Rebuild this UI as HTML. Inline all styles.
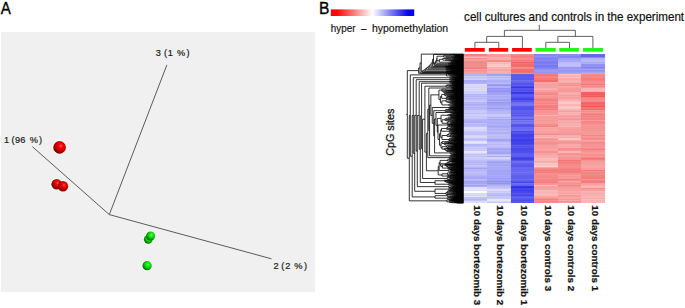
<!DOCTYPE html>
<html><head><meta charset="utf-8">
<style>
html,body{margin:0;padding:0;background:#fff;}
svg{display:block;font-family:"Liberation Sans",sans-serif;}
</style></head>
<body>
<svg width="685" height="308" viewBox="0 0 685 308">
<defs>
<radialGradient id="rs" cx="0.6" cy="0.4" r="0.72" fx="0.6" fy="0.38">
<stop offset="0" stop-color="#ff8c8c"/>
<stop offset="0.12" stop-color="#fa1c1c"/>
<stop offset="0.36" stop-color="#e60000"/>
<stop offset="0.56" stop-color="#c40000"/>
<stop offset="0.76" stop-color="#860000"/>
<stop offset="1" stop-color="#400000"/>
</radialGradient>
<radialGradient id="gs" cx="0.6" cy="0.4" r="0.72" fx="0.6" fy="0.38">
<stop offset="0" stop-color="#a0ffa0"/>
<stop offset="0.12" stop-color="#30f430"/>
<stop offset="0.36" stop-color="#10e010"/>
<stop offset="0.56" stop-color="#00bc00"/>
<stop offset="0.76" stop-color="#007c00"/>
<stop offset="1" stop-color="#003c00"/>
</radialGradient>
<linearGradient id="cb" x1="0" x2="1" y1="0" y2="0">
<stop offset="0" stop-color="#ff0000"/>
<stop offset="0.08" stop-color="#ff0808"/>
<stop offset="0.5" stop-color="#ffffff"/>
<stop offset="0.92" stop-color="#0808f0"/>
<stop offset="1" stop-color="#0000ee"/>
</linearGradient>
</defs>
<!-- Panel A -->
<text x="0.8" y="13.6" font-size="16.5" stroke="#000" stroke-width="0.35" textLength="10.1" lengthAdjust="spacingAndGlyphs">A</text>
<rect x="1" y="32" width="314" height="260" fill="#f0f0f0"/>
<g stroke="#404040" stroke-width="0.85" fill="none">
<line x1="32.4" y1="146.7" x2="109.3" y2="214.6"/>
<line x1="109.3" y1="214.6" x2="166.9" y2="64.9"/>
<line x1="109.3" y1="214.6" x2="271.4" y2="258.8"/>
</g>
<g font-size="9.2" fill="#1a1a1a" stroke="#1a1a1a" stroke-width="0.2">
<text x="155.8 164.0 167.8 176.9 186.4" y="56">3(1%)</text>
<text x="4.1 11.6 15.0 20.3 29.8 39.0" y="143.3">1(96%)</text>
<text x="273.5 281.2 285.3 294.2 304.0" y="269">2(2%)</text>
</g>
<g fill="#fff" opacity="0.55">
<circle cx="59.6" cy="147.4" r="7.3"/>
<circle cx="56.7" cy="184.3" r="6.3"/>
<circle cx="63" cy="186.2" r="6.2"/>
<circle cx="148.3" cy="239.3" r="5.4"/>
<circle cx="150.6" cy="236" r="5.5"/>
<circle cx="147.1" cy="265.7" r="5.6"/>
</g>
<circle cx="59.6" cy="147.4" r="6.3" fill="url(#rs)"/>
<circle cx="56.7" cy="184.3" r="5.3" fill="url(#rs)"/>
<circle cx="63" cy="186.2" r="5.2" fill="url(#rs)"/>
<circle cx="148.3" cy="239.3" r="4.4" fill="url(#gs)"/>
<circle cx="150.6" cy="236" r="4.5" fill="url(#gs)"/>
<circle cx="147.1" cy="265.7" r="4.65" fill="url(#gs)"/>
<!-- Panel B -->
<text x="319.0" y="14.1" font-size="16.5" stroke="#000" stroke-width="0.35" textLength="10.4" lengthAdjust="spacingAndGlyphs">B</text>
<rect x="330.8" y="9.4" width="83.4" height="6.6" fill="url(#cb)"/>
<g font-size="10" fill="#111" stroke="#111" stroke-width="0.15">
<text x="330.8" y="31.7" textLength="24.7" lengthAdjust="spacingAndGlyphs">hyper</text>
<text x="361" y="31.7" textLength="5.5" lengthAdjust="spacingAndGlyphs">&#8211;</text>
<text x="372" y="31.7" textLength="76.2" lengthAdjust="spacingAndGlyphs">hypomethylation</text>
</g>
<text x="464.1" y="20.5" font-size="11.9" fill="#111" stroke="#111" stroke-width="0.2" textLength="220" lengthAdjust="spacingAndGlyphs">cell cultures and controls in the experiment</text>
<g stroke="#505050" stroke-width="0.9" fill="none">
<path d="M539.3,24.8V30.3M504.4,30.3H575.4M504.4,30.3V36.4M486.7,36.4H522.4M486.7,36.4V42.3M474.9,42.3H498.8M474.9,42.3V48.5M498.8,42.3V48.5M522.4,36.4V48.5M575.4,30.3V36.4M557.9,36.4H592.9M557.9,36.4V42.3M545.8,42.3H569.5M545.8,42.3V48.5M569.5,42.3V48.5M592.9,36.4V48.5"/>
</g>
<g fill="#ff0000">
<rect x="464.8" y="48" width="19.9" height="3.7"/>
<rect x="488.9" y="48" width="19.3" height="3.7"/>
<rect x="512.1" y="48" width="19.7" height="3.7"/>
</g>
<g fill="#1ef812">
<rect x="535.5" y="48" width="20.2" height="3.7"/>
<rect x="559.2" y="48" width="19.7" height="3.7"/>
<rect x="583" y="48" width="20" height="3.7"/>
</g>
<g shape-rendering="crispEdges">
<rect x="463.40" y="54.000" width="23.90" height="0.551" fill="#f47e7e"/>
<rect x="463.40" y="54.501" width="23.90" height="0.551" fill="#f58a8a"/>
<rect x="463.40" y="55.001" width="23.90" height="0.551" fill="#f58181"/>
<rect x="463.40" y="55.502" width="23.90" height="0.551" fill="#f58888"/>
<rect x="463.40" y="56.003" width="23.90" height="0.551" fill="#f79e9e"/>
<rect x="463.40" y="56.503" width="23.90" height="0.551" fill="#f8a9a9"/>
<rect x="463.40" y="57.004" width="23.90" height="0.551" fill="#f8b2b2"/>
<rect x="463.40" y="57.505" width="23.90" height="0.551" fill="#f8a6a6"/>
<rect x="463.40" y="58.005" width="23.90" height="1.051" fill="#f68d8d"/>
<rect x="463.40" y="59.007" width="23.90" height="0.551" fill="#f7a2a2"/>
<rect x="463.40" y="59.507" width="23.90" height="0.551" fill="#f69292"/>
<rect x="463.40" y="60.008" width="23.90" height="1.051" fill="#f79a9a"/>
<rect x="463.40" y="61.009" width="23.90" height="0.551" fill="#f68e8e"/>
<rect x="463.40" y="61.510" width="23.90" height="0.551" fill="#f7a0a0"/>
<rect x="463.40" y="62.011" width="23.90" height="0.551" fill="#f58686"/>
<rect x="463.40" y="62.511" width="23.90" height="1.552" fill="#f58b8b"/>
<rect x="463.40" y="64.013" width="23.90" height="0.551" fill="#f58c8c"/>
<rect x="463.40" y="64.514" width="23.90" height="0.551" fill="#f68d8d"/>
<rect x="463.40" y="65.015" width="23.90" height="1.051" fill="#f58888"/>
<rect x="463.40" y="66.016" width="23.90" height="1.051" fill="#f69090"/>
<rect x="463.40" y="67.017" width="23.90" height="0.551" fill="#f58282"/>
<rect x="463.40" y="67.518" width="23.90" height="1.051" fill="#f58080"/>
<rect x="463.40" y="68.519" width="23.90" height="0.551" fill="#f79c9c"/>
<rect x="463.40" y="69.020" width="23.90" height="0.551" fill="#f7a5a5"/>
<rect x="463.40" y="69.521" width="23.90" height="1.051" fill="#f69292"/>
<rect x="463.40" y="70.522" width="23.90" height="1.051" fill="#f79c9c"/>
<rect x="463.40" y="71.523" width="23.90" height="0.551" fill="#f69898"/>
<rect x="463.40" y="72.024" width="23.90" height="0.551" fill="#f79f9f"/>
<rect x="463.40" y="72.525" width="23.90" height="0.551" fill="#f7a0a0"/>
<rect x="463.40" y="73.026" width="23.90" height="0.551" fill="#f79d9d"/>
<rect x="463.40" y="73.526" width="23.90" height="0.551" fill="#b2b2f7"/>
<rect x="463.40" y="74.027" width="23.90" height="1.552" fill="#b4b4f7"/>
<rect x="463.40" y="75.529" width="23.90" height="0.551" fill="#c7c7f9"/>
<rect x="463.40" y="76.030" width="23.90" height="1.051" fill="#cbcbf9"/>
<rect x="463.40" y="77.031" width="23.90" height="1.051" fill="#c2c2f9"/>
<rect x="463.40" y="78.032" width="23.90" height="0.551" fill="#c8c8f9"/>
<rect x="463.40" y="78.533" width="23.90" height="0.551" fill="#d1d1fa"/>
<rect x="463.40" y="79.034" width="23.90" height="0.551" fill="#d0d0fa"/>
<rect x="463.40" y="79.534" width="23.90" height="0.551" fill="#b2b2f7"/>
<rect x="463.40" y="80.035" width="23.90" height="0.551" fill="#aaaaf6"/>
<rect x="463.40" y="80.536" width="23.90" height="0.551" fill="#a8a8f6"/>
<rect x="463.40" y="81.036" width="23.90" height="0.551" fill="#a7a7f6"/>
<rect x="463.40" y="81.537" width="23.90" height="0.551" fill="#acacf6"/>
<rect x="463.40" y="82.038" width="23.90" height="0.551" fill="#b1b1f7"/>
<rect x="463.40" y="82.538" width="23.90" height="0.551" fill="#aaaaf6"/>
<rect x="463.40" y="83.039" width="23.90" height="0.551" fill="#b1b1f7"/>
<rect x="463.40" y="83.540" width="23.90" height="0.551" fill="#b4b4f7"/>
<rect x="463.40" y="84.040" width="23.90" height="0.551" fill="#dcdcfb"/>
<rect x="463.40" y="84.541" width="23.90" height="1.051" fill="#dadafb"/>
<rect x="463.40" y="85.542" width="23.90" height="1.051" fill="#d7d7fb"/>
<rect x="463.40" y="86.544" width="23.90" height="1.051" fill="#d4d4fa"/>
<rect x="463.40" y="87.545" width="23.90" height="0.551" fill="#d1d1fa"/>
<rect x="463.40" y="88.046" width="23.90" height="0.551" fill="#dbdbfb"/>
<rect x="463.40" y="88.546" width="23.90" height="0.551" fill="#d0d0fa"/>
<rect x="463.40" y="89.047" width="23.90" height="0.551" fill="#d6d6fb"/>
<rect x="463.40" y="89.548" width="23.90" height="1.051" fill="#dedefb"/>
<rect x="463.40" y="90.549" width="23.90" height="0.551" fill="#e2e2fc"/>
<rect x="463.40" y="91.050" width="23.90" height="0.551" fill="#cecefa"/>
<rect x="463.40" y="91.550" width="23.90" height="1.051" fill="#cdcdfa"/>
<rect x="463.40" y="92.552" width="23.90" height="0.551" fill="#dadafb"/>
<rect x="463.40" y="93.052" width="23.90" height="0.551" fill="#d5d5fa"/>
<rect x="463.40" y="93.553" width="23.90" height="0.551" fill="#d2d2fa"/>
<rect x="463.40" y="94.054" width="23.90" height="1.051" fill="#b0b0f7"/>
<rect x="463.40" y="95.055" width="23.90" height="0.551" fill="#bfbff8"/>
<rect x="463.40" y="95.556" width="23.90" height="1.051" fill="#b1b1f7"/>
<rect x="463.40" y="96.557" width="23.90" height="1.051" fill="#c3c3f9"/>
<rect x="463.40" y="97.558" width="23.90" height="0.551" fill="#c8c8f9"/>
<rect x="463.40" y="98.059" width="23.90" height="1.051" fill="#b6b6f7"/>
<rect x="463.40" y="99.060" width="23.90" height="0.551" fill="#c1c1f8"/>
<rect x="463.40" y="99.561" width="23.90" height="0.551" fill="#c9c9f9"/>
<rect x="463.40" y="100.062" width="23.90" height="0.551" fill="#c5c5f9"/>
<rect x="463.40" y="100.562" width="23.90" height="1.051" fill="#c9c9f9"/>
<rect x="463.40" y="101.564" width="23.90" height="0.551" fill="#b4b4f7"/>
<rect x="463.40" y="102.064" width="23.90" height="1.051" fill="#b7b7f7"/>
<rect x="463.40" y="103.066" width="23.90" height="1.051" fill="#b6b6f7"/>
<rect x="463.40" y="104.067" width="23.90" height="1.051" fill="#adadf7"/>
<rect x="463.40" y="105.068" width="23.90" height="0.551" fill="#b1b1f7"/>
<rect x="463.40" y="105.569" width="23.90" height="0.551" fill="#bfbff8"/>
<rect x="463.40" y="106.070" width="23.90" height="1.051" fill="#bdbdf8"/>
<rect x="463.40" y="107.071" width="23.90" height="1.051" fill="#b3b3f7"/>
<rect x="463.40" y="108.072" width="23.90" height="1.051" fill="#b7b7f8"/>
<rect x="463.40" y="109.074" width="23.90" height="0.551" fill="#b9b9f8"/>
<rect x="463.40" y="109.574" width="23.90" height="0.551" fill="#c2c2f9"/>
<rect x="463.40" y="110.075" width="23.90" height="0.551" fill="#c6c6f9"/>
<rect x="463.40" y="110.576" width="23.90" height="0.551" fill="#babaf8"/>
<rect x="463.40" y="111.077" width="23.90" height="0.551" fill="#cacaf9"/>
<rect x="463.40" y="111.577" width="23.90" height="1.051" fill="#c8c8f9"/>
<rect x="463.40" y="112.579" width="23.90" height="0.551" fill="#bdbdf8"/>
<rect x="463.40" y="113.079" width="23.90" height="0.551" fill="#bebef8"/>
<rect x="463.40" y="113.580" width="23.90" height="0.551" fill="#bcbcf8"/>
<rect x="463.40" y="114.081" width="23.90" height="1.051" fill="#d0d0fa"/>
<rect x="463.40" y="115.082" width="23.90" height="0.551" fill="#cdcdfa"/>
<rect x="463.40" y="115.583" width="23.90" height="0.551" fill="#e2e2fc"/>
<rect x="463.40" y="116.083" width="23.90" height="0.551" fill="#cacaf9"/>
<rect x="463.40" y="116.584" width="23.90" height="0.551" fill="#d9d9fb"/>
<rect x="463.40" y="117.085" width="23.90" height="0.551" fill="#c9c9f9"/>
<rect x="463.40" y="117.585" width="23.90" height="0.551" fill="#bdbdf8"/>
<rect x="463.40" y="118.086" width="23.90" height="0.551" fill="#c6c6f9"/>
<rect x="463.40" y="118.587" width="23.90" height="1.051" fill="#b5b5f7"/>
<rect x="463.40" y="119.588" width="23.90" height="1.051" fill="#b3b3f7"/>
<rect x="463.40" y="120.589" width="23.90" height="1.051" fill="#adadf7"/>
<rect x="463.40" y="121.591" width="23.90" height="0.551" fill="#b2b2f7"/>
<rect x="463.40" y="122.091" width="23.90" height="1.051" fill="#afaff7"/>
<rect x="463.40" y="123.093" width="23.90" height="0.551" fill="#c0c0f8"/>
<rect x="463.40" y="123.593" width="23.90" height="1.051" fill="#b7b7f7"/>
<rect x="463.40" y="124.595" width="23.90" height="0.551" fill="#bfbff8"/>
<rect x="463.40" y="125.095" width="23.90" height="1.051" fill="#b9b9f8"/>
<rect x="463.40" y="126.097" width="23.90" height="1.051" fill="#bfbff8"/>
<rect x="463.40" y="127.098" width="23.90" height="2.053" fill="#dcdcfb"/>
<rect x="463.40" y="129.101" width="23.90" height="0.551" fill="#d5d5fa"/>
<rect x="463.40" y="129.601" width="23.90" height="1.051" fill="#d9d9fb"/>
<rect x="463.40" y="130.603" width="23.90" height="0.551" fill="#d5d5fa"/>
<rect x="463.40" y="131.103" width="23.90" height="0.551" fill="#c6c6f9"/>
<rect x="463.40" y="131.604" width="23.90" height="1.051" fill="#c2c2f9"/>
<rect x="463.40" y="132.605" width="23.90" height="0.551" fill="#bfbff8"/>
<rect x="463.40" y="133.106" width="23.90" height="0.551" fill="#c2c2f9"/>
<rect x="463.40" y="133.607" width="23.90" height="0.551" fill="#b6b6f7"/>
<rect x="463.40" y="134.107" width="23.90" height="0.551" fill="#c1c1f8"/>
<rect x="463.40" y="134.608" width="23.90" height="0.551" fill="#d4d4fa"/>
<rect x="463.40" y="135.109" width="23.90" height="1.051" fill="#d1d1fa"/>
<rect x="463.40" y="136.110" width="23.90" height="1.051" fill="#d9d9fb"/>
<rect x="463.40" y="137.111" width="23.90" height="0.551" fill="#d8d8fb"/>
<rect x="463.40" y="137.612" width="23.90" height="0.551" fill="#b7b7f8"/>
<rect x="463.40" y="138.113" width="23.90" height="0.551" fill="#c5c5f9"/>
<rect x="463.40" y="138.613" width="23.90" height="1.051" fill="#b9b9f8"/>
<rect x="463.40" y="139.615" width="23.90" height="0.551" fill="#ccccfa"/>
<rect x="463.40" y="140.115" width="23.90" height="1.051" fill="#c7c7f9"/>
<rect x="463.40" y="141.117" width="23.90" height="0.551" fill="#dfdffb"/>
<rect x="463.40" y="141.617" width="23.90" height="1.051" fill="#e8e8fc"/>
<rect x="463.40" y="142.619" width="23.90" height="1.051" fill="#dadafb"/>
<rect x="463.40" y="143.620" width="23.90" height="0.551" fill="#d2d2fa"/>
<rect x="463.40" y="144.121" width="23.90" height="0.551" fill="#b4b4f7"/>
<rect x="463.40" y="144.621" width="23.90" height="1.051" fill="#b7b7f7"/>
<rect x="463.40" y="145.623" width="23.90" height="0.551" fill="#bebef8"/>
<rect x="463.40" y="146.123" width="23.90" height="1.051" fill="#bfbff8"/>
<rect x="463.40" y="147.125" width="23.90" height="0.551" fill="#ccccfa"/>
<rect x="463.40" y="147.626" width="23.90" height="0.551" fill="#dedefb"/>
<rect x="463.40" y="148.126" width="23.90" height="1.051" fill="#c5c5f9"/>
<rect x="463.40" y="149.128" width="23.90" height="0.551" fill="#cbcbf9"/>
<rect x="463.40" y="149.628" width="23.90" height="1.051" fill="#c9c9f9"/>
<rect x="463.40" y="150.630" width="23.90" height="0.551" fill="#c5c5f9"/>
<rect x="463.40" y="151.130" width="23.90" height="0.551" fill="#e6e6fc"/>
<rect x="463.40" y="151.631" width="23.90" height="1.051" fill="#e5e5fc"/>
<rect x="463.40" y="152.632" width="23.90" height="0.551" fill="#e6e6fc"/>
<rect x="463.40" y="153.133" width="23.90" height="0.551" fill="#d1d1fa"/>
<rect x="463.40" y="153.634" width="23.90" height="0.551" fill="#c5c5f9"/>
<rect x="463.40" y="154.134" width="23.90" height="0.551" fill="#c0c0f8"/>
<rect x="463.40" y="154.635" width="23.90" height="0.551" fill="#bfbff8"/>
<rect x="463.40" y="155.136" width="23.90" height="0.551" fill="#cecefa"/>
<rect x="463.40" y="155.636" width="23.90" height="0.551" fill="#cacaf9"/>
<rect x="463.40" y="156.137" width="23.90" height="1.051" fill="#bcbcf8"/>
<rect x="463.40" y="157.138" width="23.90" height="1.051" fill="#d3d3fa"/>
<rect x="463.40" y="158.140" width="23.90" height="1.051" fill="#cbcbf9"/>
<rect x="463.40" y="159.141" width="23.90" height="1.051" fill="#c8c8f9"/>
<rect x="463.40" y="160.142" width="23.90" height="1.051" fill="#bdbdf8"/>
<rect x="463.40" y="161.144" width="23.90" height="1.051" fill="#b7b7f8"/>
<rect x="463.40" y="162.145" width="23.90" height="1.051" fill="#b6b6f7"/>
<rect x="463.40" y="163.146" width="23.90" height="1.051" fill="#bfbff8"/>
<rect x="463.40" y="164.148" width="23.90" height="0.551" fill="#b7b7f8"/>
<rect x="463.40" y="164.648" width="23.90" height="1.051" fill="#c7c7f9"/>
<rect x="463.40" y="165.650" width="23.90" height="0.551" fill="#babaf8"/>
<rect x="463.40" y="166.150" width="23.90" height="0.551" fill="#c2c2f9"/>
<rect x="463.40" y="166.651" width="23.90" height="0.551" fill="#b5b5f7"/>
<rect x="463.40" y="167.152" width="23.90" height="0.551" fill="#b4b4f7"/>
<rect x="463.40" y="167.652" width="23.90" height="1.051" fill="#a1a1f5"/>
<rect x="463.40" y="168.654" width="23.90" height="0.551" fill="#bebef8"/>
<rect x="463.40" y="169.154" width="23.90" height="0.551" fill="#b8b8f8"/>
<rect x="463.40" y="169.655" width="23.90" height="1.051" fill="#b6b6f7"/>
<rect x="463.40" y="170.656" width="23.90" height="0.551" fill="#babaf8"/>
<rect x="463.40" y="171.157" width="23.90" height="1.051" fill="#bcbcf8"/>
<rect x="463.40" y="172.158" width="23.90" height="0.551" fill="#c1c1f8"/>
<rect x="463.40" y="172.659" width="23.90" height="0.551" fill="#b8b8f8"/>
<rect x="463.40" y="173.160" width="23.90" height="0.551" fill="#b9b9f8"/>
<rect x="463.40" y="173.660" width="23.90" height="1.051" fill="#bfbff8"/>
<rect x="463.40" y="174.662" width="23.90" height="1.051" fill="#b2b2f7"/>
<rect x="463.40" y="175.663" width="23.90" height="0.551" fill="#a9a9f6"/>
<rect x="463.40" y="176.164" width="23.90" height="1.051" fill="#ababf6"/>
<rect x="463.40" y="177.165" width="23.90" height="1.051" fill="#a8a8f6"/>
<rect x="463.40" y="178.166" width="23.90" height="0.551" fill="#a6a6f6"/>
<rect x="463.40" y="178.667" width="23.90" height="0.551" fill="#aaaaf6"/>
<rect x="463.40" y="179.168" width="23.90" height="0.551" fill="#bfbff8"/>
<rect x="463.40" y="179.668" width="23.90" height="1.051" fill="#b3b3f7"/>
<rect x="463.40" y="180.670" width="23.90" height="1.051" fill="#a1a1f5"/>
<rect x="463.40" y="181.671" width="23.90" height="1.051" fill="#a7a7f6"/>
<rect x="463.40" y="182.672" width="23.90" height="0.551" fill="#a9a9f6"/>
<rect x="463.40" y="183.173" width="23.90" height="0.551" fill="#a6a6f6"/>
<rect x="463.40" y="183.674" width="23.90" height="0.551" fill="#9c9cf5"/>
<rect x="463.40" y="184.174" width="23.90" height="1.051" fill="#b3b3f7"/>
<rect x="463.40" y="185.176" width="23.90" height="0.551" fill="#a2a2f5"/>
<rect x="463.40" y="185.677" width="23.90" height="0.551" fill="#b4b4f7"/>
<rect x="463.40" y="186.177" width="23.90" height="1.051" fill="#aeaef7"/>
<rect x="463.40" y="187.179" width="23.90" height="0.551" fill="#e0e0fb"/>
<rect x="463.40" y="187.679" width="23.90" height="0.551" fill="#e7e7fc"/>
<rect x="463.40" y="188.180" width="23.90" height="0.551" fill="#e0e0fc"/>
<rect x="463.40" y="188.681" width="23.90" height="1.051" fill="#e8e8fc"/>
<rect x="463.40" y="189.682" width="23.90" height="1.051" fill="#ddddfb"/>
<rect x="463.40" y="190.683" width="23.90" height="0.551" fill="#dcdcfb"/>
<rect x="463.40" y="191.184" width="23.90" height="0.551" fill="#fbfbfe"/>
<rect x="463.40" y="191.685" width="23.90" height="1.051" fill="#fefbfb"/>
<rect x="463.40" y="192.686" width="23.90" height="0.551" fill="#f4f4fd"/>
<rect x="463.40" y="193.187" width="23.90" height="1.051" fill="#dadafb"/>
<rect x="463.40" y="194.188" width="23.90" height="0.551" fill="#dbdbfb"/>
<rect x="463.40" y="194.689" width="23.90" height="1.051" fill="#d4d4fa"/>
<rect x="463.40" y="195.690" width="23.90" height="1.051" fill="#e4e4fc"/>
<rect x="463.40" y="196.691" width="23.90" height="0.551" fill="#e7e7fc"/>
<rect x="463.40" y="197.192" width="23.90" height="0.551" fill="#bebef8"/>
<rect x="463.40" y="197.693" width="23.90" height="0.551" fill="#bdbdf8"/>
<rect x="463.40" y="198.193" width="23.90" height="1.051" fill="#c3c3f9"/>
<rect x="463.40" y="199.195" width="23.90" height="0.551" fill="#b5b5f7"/>
<rect x="463.40" y="199.695" width="23.90" height="0.551" fill="#afaff7"/>
<rect x="463.40" y="200.196" width="23.90" height="0.551" fill="#c4c4f9"/>
<rect x="463.40" y="200.697" width="23.90" height="0.551" fill="#dedefb"/>
<rect x="463.40" y="201.197" width="23.90" height="0.551" fill="#dbdbfb"/>
<rect x="463.40" y="201.698" width="23.90" height="1.051" fill="#dedefb"/>
<rect x="463.40" y="202.699" width="23.90" height="0.551" fill="#d1d1fa"/>
<rect x="487.00" y="54.000" width="23.90" height="0.551" fill="#f79d9d"/>
<rect x="487.00" y="54.501" width="23.90" height="0.551" fill="#f79c9c"/>
<rect x="487.00" y="55.001" width="23.90" height="1.051" fill="#f79d9d"/>
<rect x="487.00" y="56.003" width="23.90" height="0.551" fill="#f79999"/>
<rect x="487.00" y="56.503" width="23.90" height="0.551" fill="#f69797"/>
<rect x="487.00" y="57.004" width="23.90" height="0.551" fill="#f8b0b0"/>
<rect x="487.00" y="57.505" width="23.90" height="0.551" fill="#f9b7b7"/>
<rect x="487.00" y="58.005" width="23.90" height="1.051" fill="#f8a7a7"/>
<rect x="487.00" y="59.007" width="23.90" height="0.551" fill="#f8acac"/>
<rect x="487.00" y="59.507" width="23.90" height="0.551" fill="#f69191"/>
<rect x="487.00" y="60.008" width="23.90" height="1.051" fill="#f68c8c"/>
<rect x="487.00" y="61.009" width="23.90" height="0.551" fill="#f58888"/>
<rect x="487.00" y="61.510" width="23.90" height="0.551" fill="#f79c9c"/>
<rect x="487.00" y="62.011" width="23.90" height="0.551" fill="#fac0c0"/>
<rect x="487.00" y="62.511" width="23.90" height="0.551" fill="#f9bbbb"/>
<rect x="487.00" y="63.012" width="23.90" height="1.051" fill="#f9b6b6"/>
<rect x="487.00" y="64.013" width="23.90" height="0.551" fill="#fac6c6"/>
<rect x="487.00" y="64.514" width="23.90" height="0.551" fill="#fac3c3"/>
<rect x="487.00" y="65.015" width="23.90" height="1.051" fill="#fac4c4"/>
<rect x="487.00" y="66.016" width="23.90" height="1.051" fill="#fbcece"/>
<rect x="487.00" y="67.017" width="23.90" height="0.551" fill="#f8adad"/>
<rect x="487.00" y="67.518" width="23.90" height="1.051" fill="#f9b3b3"/>
<rect x="487.00" y="68.519" width="23.90" height="0.551" fill="#f8aaaa"/>
<rect x="487.00" y="69.020" width="23.90" height="0.551" fill="#f8a9a9"/>
<rect x="487.00" y="69.521" width="23.90" height="1.051" fill="#f7a1a1"/>
<rect x="487.00" y="70.522" width="23.90" height="1.051" fill="#f9b3b3"/>
<rect x="487.00" y="71.523" width="23.90" height="0.551" fill="#f8abab"/>
<rect x="487.00" y="72.024" width="23.90" height="1.051" fill="#f8afaf"/>
<rect x="487.00" y="73.026" width="23.90" height="0.551" fill="#f8a6a6"/>
<rect x="487.00" y="73.526" width="23.90" height="0.551" fill="#a3a3f6"/>
<rect x="487.00" y="74.027" width="23.90" height="1.051" fill="#9f9ff5"/>
<rect x="487.00" y="75.028" width="23.90" height="0.551" fill="#a3a3f6"/>
<rect x="487.00" y="75.529" width="23.90" height="0.551" fill="#bfbff8"/>
<rect x="487.00" y="76.030" width="23.90" height="1.051" fill="#c3c3f9"/>
<rect x="487.00" y="77.031" width="23.90" height="1.051" fill="#b7b7f8"/>
<rect x="487.00" y="78.032" width="23.90" height="0.551" fill="#c4c4f9"/>
<rect x="487.00" y="78.533" width="23.90" height="0.551" fill="#b9b9f8"/>
<rect x="487.00" y="79.034" width="23.90" height="0.551" fill="#bfbff8"/>
<rect x="487.00" y="79.534" width="23.90" height="0.551" fill="#babaf8"/>
<rect x="487.00" y="80.035" width="23.90" height="1.552" fill="#b0b0f7"/>
<rect x="487.00" y="81.537" width="23.90" height="0.551" fill="#aeaef7"/>
<rect x="487.00" y="82.038" width="23.90" height="0.551" fill="#b1b1f7"/>
<rect x="487.00" y="82.538" width="23.90" height="0.551" fill="#adadf7"/>
<rect x="487.00" y="83.039" width="23.90" height="0.551" fill="#bebef8"/>
<rect x="487.00" y="83.540" width="23.90" height="1.051" fill="#9c9cf5"/>
<rect x="487.00" y="84.541" width="23.90" height="1.051" fill="#9696f4"/>
<rect x="487.00" y="85.542" width="23.90" height="1.051" fill="#afaff7"/>
<rect x="487.00" y="86.544" width="23.90" height="1.051" fill="#b1b1f7"/>
<rect x="487.00" y="87.545" width="23.90" height="0.551" fill="#ababf6"/>
<rect x="487.00" y="88.046" width="23.90" height="0.551" fill="#9494f4"/>
<rect x="487.00" y="88.546" width="23.90" height="0.551" fill="#8d8df3"/>
<rect x="487.00" y="89.047" width="23.90" height="0.551" fill="#9e9ef5"/>
<rect x="487.00" y="89.548" width="23.90" height="0.551" fill="#9999f5"/>
<rect x="487.00" y="90.048" width="23.90" height="0.551" fill="#9696f4"/>
<rect x="487.00" y="90.549" width="23.90" height="0.551" fill="#9e9ef5"/>
<rect x="487.00" y="91.050" width="23.90" height="0.551" fill="#9292f4"/>
<rect x="487.00" y="91.550" width="23.90" height="1.552" fill="#9f9ff5"/>
<rect x="487.00" y="93.052" width="23.90" height="0.551" fill="#a0a0f5"/>
<rect x="487.00" y="93.553" width="23.90" height="0.551" fill="#8e8ef3"/>
<rect x="487.00" y="94.054" width="23.90" height="1.051" fill="#a5a5f6"/>
<rect x="487.00" y="95.055" width="23.90" height="0.551" fill="#b3b3f7"/>
<rect x="487.00" y="95.556" width="23.90" height="1.051" fill="#aaaaf6"/>
<rect x="487.00" y="96.557" width="23.90" height="1.051" fill="#aeaef7"/>
<rect x="487.00" y="97.558" width="23.90" height="0.551" fill="#b3b3f7"/>
<rect x="487.00" y="98.059" width="23.90" height="1.051" fill="#b2b2f7"/>
<rect x="487.00" y="99.060" width="23.90" height="1.051" fill="#a5a5f6"/>
<rect x="487.00" y="100.062" width="23.90" height="0.551" fill="#9e9ef5"/>
<rect x="487.00" y="100.562" width="23.90" height="1.051" fill="#afaff7"/>
<rect x="487.00" y="101.564" width="23.90" height="0.551" fill="#a1a1f5"/>
<rect x="487.00" y="102.064" width="23.90" height="1.051" fill="#9696f4"/>
<rect x="487.00" y="103.066" width="23.90" height="1.051" fill="#9f9ff5"/>
<rect x="487.00" y="104.067" width="23.90" height="1.051" fill="#a2a2f5"/>
<rect x="487.00" y="105.068" width="23.90" height="0.551" fill="#a5a5f6"/>
<rect x="487.00" y="105.569" width="23.90" height="0.551" fill="#a8a8f6"/>
<rect x="487.00" y="106.070" width="23.90" height="1.051" fill="#ababf6"/>
<rect x="487.00" y="107.071" width="23.90" height="1.051" fill="#acacf6"/>
<rect x="487.00" y="108.072" width="23.90" height="1.051" fill="#9c9cf5"/>
<rect x="487.00" y="109.074" width="23.90" height="0.551" fill="#adadf6"/>
<rect x="487.00" y="109.574" width="23.90" height="0.551" fill="#afaff7"/>
<rect x="487.00" y="110.075" width="23.90" height="0.551" fill="#b0b0f7"/>
<rect x="487.00" y="110.576" width="23.90" height="0.551" fill="#bcbcf8"/>
<rect x="487.00" y="111.077" width="23.90" height="0.551" fill="#b5b5f7"/>
<rect x="487.00" y="111.577" width="23.90" height="1.051" fill="#b9b9f8"/>
<rect x="487.00" y="112.579" width="23.90" height="0.551" fill="#b1b1f7"/>
<rect x="487.00" y="113.079" width="23.90" height="0.551" fill="#b8b8f8"/>
<rect x="487.00" y="113.580" width="23.90" height="0.551" fill="#b5b5f7"/>
<rect x="487.00" y="114.081" width="23.90" height="1.051" fill="#c9c9f9"/>
<rect x="487.00" y="115.082" width="23.90" height="0.551" fill="#cbcbf9"/>
<rect x="487.00" y="115.583" width="23.90" height="0.551" fill="#c8c8f9"/>
<rect x="487.00" y="116.083" width="23.90" height="0.551" fill="#c4c4f9"/>
<rect x="487.00" y="116.584" width="23.90" height="0.551" fill="#babaf8"/>
<rect x="487.00" y="117.085" width="23.90" height="0.551" fill="#b2b2f7"/>
<rect x="487.00" y="117.585" width="23.90" height="1.051" fill="#bfbff8"/>
<rect x="487.00" y="118.587" width="23.90" height="1.552" fill="#a7a7f6"/>
<rect x="487.00" y="120.089" width="23.90" height="0.551" fill="#afaff7"/>
<rect x="487.00" y="120.589" width="23.90" height="1.051" fill="#b3b3f7"/>
<rect x="487.00" y="121.591" width="23.90" height="0.551" fill="#a3a3f6"/>
<rect x="487.00" y="122.091" width="23.90" height="1.051" fill="#acacf6"/>
<rect x="487.00" y="123.093" width="23.90" height="0.551" fill="#aeaef7"/>
<rect x="487.00" y="123.593" width="23.90" height="1.051" fill="#afaff7"/>
<rect x="487.00" y="124.595" width="23.90" height="1.552" fill="#b1b1f7"/>
<rect x="487.00" y="126.097" width="23.90" height="1.051" fill="#a4a4f6"/>
<rect x="487.00" y="127.098" width="23.90" height="1.051" fill="#adadf6"/>
<rect x="487.00" y="128.099" width="23.90" height="1.051" fill="#b6b6f7"/>
<rect x="487.00" y="129.101" width="23.90" height="0.551" fill="#aeaef7"/>
<rect x="487.00" y="129.601" width="23.90" height="1.051" fill="#b9b9f8"/>
<rect x="487.00" y="130.603" width="23.90" height="0.551" fill="#adadf7"/>
<rect x="487.00" y="131.103" width="23.90" height="0.551" fill="#babaf8"/>
<rect x="487.00" y="131.604" width="23.90" height="1.051" fill="#b3b3f7"/>
<rect x="487.00" y="132.605" width="23.90" height="0.551" fill="#b8b8f8"/>
<rect x="487.00" y="133.106" width="23.90" height="0.551" fill="#afaff7"/>
<rect x="487.00" y="133.607" width="23.90" height="0.551" fill="#b0b0f7"/>
<rect x="487.00" y="134.107" width="23.90" height="0.551" fill="#bebef8"/>
<rect x="487.00" y="134.608" width="23.90" height="0.551" fill="#c0c0f8"/>
<rect x="487.00" y="135.109" width="23.90" height="1.051" fill="#bebef8"/>
<rect x="487.00" y="136.110" width="23.90" height="1.051" fill="#bbbbf8"/>
<rect x="487.00" y="137.111" width="23.90" height="0.551" fill="#bfbff8"/>
<rect x="487.00" y="137.612" width="23.90" height="0.551" fill="#aaaaf6"/>
<rect x="487.00" y="138.113" width="23.90" height="0.551" fill="#b5b5f7"/>
<rect x="487.00" y="138.613" width="23.90" height="1.552" fill="#a6a6f6"/>
<rect x="487.00" y="140.115" width="23.90" height="1.051" fill="#9f9ff5"/>
<rect x="487.00" y="141.117" width="23.90" height="0.551" fill="#b4b4f7"/>
<rect x="487.00" y="141.617" width="23.90" height="1.051" fill="#bbbbf8"/>
<rect x="487.00" y="142.619" width="23.90" height="1.051" fill="#c4c4f9"/>
<rect x="487.00" y="143.620" width="23.90" height="0.551" fill="#b0b0f7"/>
<rect x="487.00" y="144.121" width="23.90" height="0.551" fill="#b9b9f8"/>
<rect x="487.00" y="144.621" width="23.90" height="1.051" fill="#c2c2f9"/>
<rect x="487.00" y="145.623" width="23.90" height="0.551" fill="#cecefa"/>
<rect x="487.00" y="146.123" width="23.90" height="1.552" fill="#bdbdf8"/>
<rect x="487.00" y="147.626" width="23.90" height="0.551" fill="#a1a1f5"/>
<rect x="487.00" y="148.126" width="23.90" height="1.051" fill="#a6a6f6"/>
<rect x="487.00" y="149.128" width="23.90" height="0.551" fill="#a5a5f6"/>
<rect x="487.00" y="149.628" width="23.90" height="1.051" fill="#ababf6"/>
<rect x="487.00" y="150.630" width="23.90" height="0.551" fill="#9e9ef5"/>
<rect x="487.00" y="151.130" width="23.90" height="0.551" fill="#a9a9f6"/>
<rect x="487.00" y="151.631" width="23.90" height="1.051" fill="#a5a5f6"/>
<rect x="487.00" y="152.632" width="23.90" height="0.551" fill="#adadf7"/>
<rect x="487.00" y="153.133" width="23.90" height="1.051" fill="#a0a0f5"/>
<rect x="487.00" y="154.134" width="23.90" height="0.551" fill="#bebef8"/>
<rect x="487.00" y="154.635" width="23.90" height="0.551" fill="#c3c3f9"/>
<rect x="487.00" y="155.136" width="23.90" height="0.551" fill="#c9c9f9"/>
<rect x="487.00" y="155.636" width="23.90" height="0.551" fill="#b9b9f8"/>
<rect x="487.00" y="156.137" width="23.90" height="1.051" fill="#a6a6f6"/>
<rect x="487.00" y="157.138" width="23.90" height="1.051" fill="#d6d6fb"/>
<rect x="487.00" y="158.140" width="23.90" height="1.051" fill="#d2d2fa"/>
<rect x="487.00" y="159.141" width="23.90" height="1.051" fill="#c5c5f9"/>
<rect x="487.00" y="160.142" width="23.90" height="1.051" fill="#b8b8f8"/>
<rect x="487.00" y="161.144" width="23.90" height="1.051" fill="#a8a8f6"/>
<rect x="487.00" y="162.145" width="23.90" height="1.051" fill="#9e9ef5"/>
<rect x="487.00" y="163.146" width="23.90" height="1.051" fill="#b0b0f7"/>
<rect x="487.00" y="164.148" width="23.90" height="1.552" fill="#a8a8f6"/>
<rect x="487.00" y="165.650" width="23.90" height="0.551" fill="#aaaaf6"/>
<rect x="487.00" y="166.150" width="23.90" height="0.551" fill="#b0b0f7"/>
<rect x="487.00" y="166.651" width="23.90" height="0.551" fill="#a4a4f6"/>
<rect x="487.00" y="167.152" width="23.90" height="0.551" fill="#ababf6"/>
<rect x="487.00" y="167.652" width="23.90" height="0.551" fill="#aeaef7"/>
<rect x="487.00" y="168.153" width="23.90" height="0.551" fill="#aaaaf6"/>
<rect x="487.00" y="168.654" width="23.90" height="0.551" fill="#a7a7f6"/>
<rect x="487.00" y="169.154" width="23.90" height="0.551" fill="#a9a9f6"/>
<rect x="487.00" y="169.655" width="23.90" height="1.051" fill="#a3a3f6"/>
<rect x="487.00" y="170.656" width="23.90" height="1.552" fill="#a4a4f6"/>
<rect x="487.00" y="172.158" width="23.90" height="0.551" fill="#a5a5f6"/>
<rect x="487.00" y="172.659" width="23.90" height="0.551" fill="#9d9df5"/>
<rect x="487.00" y="173.160" width="23.90" height="0.551" fill="#a6a6f6"/>
<rect x="487.00" y="173.660" width="23.90" height="1.051" fill="#a3a3f6"/>
<rect x="487.00" y="174.662" width="23.90" height="1.552" fill="#acacf6"/>
<rect x="487.00" y="176.164" width="23.90" height="1.051" fill="#a4a4f6"/>
<rect x="487.00" y="177.165" width="23.90" height="1.051" fill="#ababf6"/>
<rect x="487.00" y="178.166" width="23.90" height="0.551" fill="#9898f4"/>
<rect x="487.00" y="178.667" width="23.90" height="0.551" fill="#a9a9f6"/>
<rect x="487.00" y="179.168" width="23.90" height="0.551" fill="#a7a7f6"/>
<rect x="487.00" y="179.668" width="23.90" height="1.051" fill="#a1a1f5"/>
<rect x="487.00" y="180.670" width="23.90" height="1.051" fill="#9090f4"/>
<rect x="487.00" y="181.671" width="23.90" height="1.051" fill="#a0a0f5"/>
<rect x="487.00" y="182.672" width="23.90" height="1.051" fill="#9292f4"/>
<rect x="487.00" y="183.674" width="23.90" height="0.551" fill="#aaaaf6"/>
<rect x="487.00" y="184.174" width="23.90" height="1.051" fill="#a7a7f6"/>
<rect x="487.00" y="185.176" width="23.90" height="0.551" fill="#b1b1f7"/>
<rect x="487.00" y="185.677" width="23.90" height="0.551" fill="#c6c6f9"/>
<rect x="487.00" y="186.177" width="23.90" height="0.551" fill="#bebef8"/>
<rect x="487.00" y="186.678" width="23.90" height="0.551" fill="#c2c2f9"/>
<rect x="487.00" y="187.179" width="23.90" height="0.551" fill="#bdbdf8"/>
<rect x="487.00" y="187.679" width="23.90" height="0.551" fill="#cfcffa"/>
<rect x="487.00" y="188.180" width="23.90" height="0.551" fill="#cbcbf9"/>
<rect x="487.00" y="188.681" width="23.90" height="2.553" fill="#dbdbfb"/>
<rect x="487.00" y="191.184" width="23.90" height="0.551" fill="#c9c9f9"/>
<rect x="487.00" y="191.685" width="23.90" height="1.051" fill="#cfcffa"/>
<rect x="487.00" y="192.686" width="23.90" height="0.551" fill="#cacaf9"/>
<rect x="487.00" y="193.187" width="23.90" height="1.051" fill="#bfbff8"/>
<rect x="487.00" y="194.188" width="23.90" height="0.551" fill="#bdbdf8"/>
<rect x="487.00" y="194.689" width="23.90" height="1.051" fill="#b5b5f7"/>
<rect x="487.00" y="195.690" width="23.90" height="1.051" fill="#c8c8f9"/>
<rect x="487.00" y="196.691" width="23.90" height="1.051" fill="#c5c5f9"/>
<rect x="487.00" y="197.693" width="23.90" height="0.551" fill="#c7c7f9"/>
<rect x="487.00" y="198.193" width="23.90" height="1.051" fill="#c8c8f9"/>
<rect x="487.00" y="199.195" width="23.90" height="0.551" fill="#e5e5fc"/>
<rect x="487.00" y="199.695" width="23.90" height="0.551" fill="#e0e0fb"/>
<rect x="487.00" y="200.196" width="23.90" height="0.551" fill="#e6e6fc"/>
<rect x="487.00" y="200.697" width="23.90" height="0.551" fill="#d6d6fb"/>
<rect x="487.00" y="201.197" width="23.90" height="0.551" fill="#dadafb"/>
<rect x="487.00" y="201.698" width="23.90" height="1.051" fill="#c7c7f9"/>
<rect x="487.00" y="202.699" width="23.90" height="0.551" fill="#c8c8f9"/>
<rect x="510.60" y="54.000" width="23.90" height="1.051" fill="#f68d8d"/>
<rect x="510.60" y="55.001" width="23.90" height="0.551" fill="#f58484"/>
<rect x="510.60" y="55.502" width="23.90" height="0.551" fill="#f58989"/>
<rect x="510.60" y="56.003" width="23.90" height="1.051" fill="#f47979"/>
<rect x="510.60" y="57.004" width="23.90" height="0.551" fill="#f58282"/>
<rect x="510.60" y="57.505" width="23.90" height="0.551" fill="#f58888"/>
<rect x="510.60" y="58.005" width="23.90" height="1.051" fill="#f58a8a"/>
<rect x="510.60" y="59.007" width="23.90" height="0.551" fill="#f68f8f"/>
<rect x="510.60" y="59.507" width="23.90" height="0.551" fill="#f47d7d"/>
<rect x="510.60" y="60.008" width="23.90" height="1.051" fill="#f47373"/>
<rect x="510.60" y="61.009" width="23.90" height="0.551" fill="#f58585"/>
<rect x="510.60" y="61.510" width="23.90" height="0.551" fill="#f47373"/>
<rect x="510.60" y="62.011" width="23.90" height="0.551" fill="#f26161"/>
<rect x="510.60" y="62.511" width="23.90" height="0.551" fill="#f36d6d"/>
<rect x="510.60" y="63.012" width="23.90" height="1.051" fill="#f47373"/>
<rect x="510.60" y="64.013" width="23.90" height="0.551" fill="#f36b6b"/>
<rect x="510.60" y="64.514" width="23.90" height="0.551" fill="#f36f6f"/>
<rect x="510.60" y="65.015" width="23.90" height="1.051" fill="#f36a6a"/>
<rect x="510.60" y="66.016" width="23.90" height="1.051" fill="#f36b6b"/>
<rect x="510.60" y="67.017" width="23.90" height="0.551" fill="#f68f8f"/>
<rect x="510.60" y="67.518" width="23.90" height="1.051" fill="#f58787"/>
<rect x="510.60" y="68.519" width="23.90" height="0.551" fill="#f58484"/>
<rect x="510.60" y="69.020" width="23.90" height="0.551" fill="#f36f6f"/>
<rect x="510.60" y="69.521" width="23.90" height="1.051" fill="#f37171"/>
<rect x="510.60" y="70.522" width="23.90" height="1.051" fill="#f36b6b"/>
<rect x="510.60" y="71.523" width="23.90" height="0.551" fill="#f47777"/>
<rect x="510.60" y="72.024" width="23.90" height="0.551" fill="#f47474"/>
<rect x="510.60" y="72.525" width="23.90" height="0.551" fill="#f36f6f"/>
<rect x="510.60" y="73.026" width="23.90" height="0.551" fill="#f58a8a"/>
<rect x="510.60" y="73.526" width="23.90" height="0.551" fill="#5252ee"/>
<rect x="510.60" y="74.027" width="23.90" height="1.051" fill="#6161ef"/>
<rect x="510.60" y="75.028" width="23.90" height="0.551" fill="#5858ee"/>
<rect x="510.60" y="75.529" width="23.90" height="0.551" fill="#4d4ded"/>
<rect x="510.60" y="76.030" width="23.90" height="1.051" fill="#5b5bee"/>
<rect x="510.60" y="77.031" width="23.90" height="1.051" fill="#5e5eef"/>
<rect x="510.60" y="78.032" width="23.90" height="0.551" fill="#5959ee"/>
<rect x="510.60" y="78.533" width="23.90" height="0.551" fill="#5555ee"/>
<rect x="510.60" y="79.034" width="23.90" height="0.551" fill="#5959ee"/>
<rect x="510.60" y="79.534" width="23.90" height="0.551" fill="#6464ef"/>
<rect x="510.60" y="80.035" width="23.90" height="0.551" fill="#7070f0"/>
<rect x="510.60" y="80.536" width="23.90" height="0.551" fill="#7777f1"/>
<rect x="510.60" y="81.036" width="23.90" height="0.551" fill="#6464ef"/>
<rect x="510.60" y="81.537" width="23.90" height="0.551" fill="#6e6ef0"/>
<rect x="510.60" y="82.038" width="23.90" height="0.551" fill="#6565ef"/>
<rect x="510.60" y="82.538" width="23.90" height="0.551" fill="#6363ef"/>
<rect x="510.60" y="83.039" width="23.90" height="0.551" fill="#5050ed"/>
<rect x="510.60" y="83.540" width="23.90" height="1.051" fill="#5656ee"/>
<rect x="510.60" y="84.541" width="23.90" height="1.051" fill="#5f5fef"/>
<rect x="510.60" y="85.542" width="23.90" height="1.051" fill="#4646ec"/>
<rect x="510.60" y="86.544" width="23.90" height="1.051" fill="#3838eb"/>
<rect x="510.60" y="87.545" width="23.90" height="0.551" fill="#3e3eec"/>
<rect x="510.60" y="88.046" width="23.90" height="0.551" fill="#5353ee"/>
<rect x="510.60" y="88.546" width="23.90" height="0.551" fill="#4c4ced"/>
<rect x="510.60" y="89.047" width="23.90" height="0.551" fill="#5555ee"/>
<rect x="510.60" y="89.548" width="23.90" height="1.051" fill="#4949ed"/>
<rect x="510.60" y="90.549" width="23.90" height="0.551" fill="#5151ee"/>
<rect x="510.60" y="91.050" width="23.90" height="0.551" fill="#5b5bef"/>
<rect x="510.60" y="91.550" width="23.90" height="1.051" fill="#3131ea"/>
<rect x="510.60" y="92.552" width="23.90" height="0.551" fill="#3b3beb"/>
<rect x="510.60" y="93.052" width="23.90" height="0.551" fill="#3f3fec"/>
<rect x="510.60" y="93.553" width="23.90" height="0.551" fill="#3939eb"/>
<rect x="510.60" y="94.054" width="23.90" height="1.051" fill="#5757ee"/>
<rect x="510.60" y="95.055" width="23.90" height="0.551" fill="#5d5def"/>
<rect x="510.60" y="95.556" width="23.90" height="1.051" fill="#5858ee"/>
<rect x="510.60" y="96.557" width="23.90" height="1.051" fill="#4e4eed"/>
<rect x="510.60" y="97.558" width="23.90" height="0.551" fill="#5050ed"/>
<rect x="510.60" y="98.059" width="23.90" height="1.051" fill="#4545ec"/>
<rect x="510.60" y="99.060" width="23.90" height="0.551" fill="#3d3dec"/>
<rect x="510.60" y="99.561" width="23.90" height="0.551" fill="#4848ed"/>
<rect x="510.60" y="100.062" width="23.90" height="0.551" fill="#5858ee"/>
<rect x="510.60" y="100.562" width="23.90" height="1.051" fill="#5454ee"/>
<rect x="510.60" y="101.564" width="23.90" height="0.551" fill="#8383f2"/>
<rect x="510.60" y="102.064" width="23.90" height="1.051" fill="#6b6bf0"/>
<rect x="510.60" y="103.066" width="23.90" height="1.051" fill="#7171f1"/>
<rect x="510.60" y="104.067" width="23.90" height="1.051" fill="#7878f1"/>
<rect x="510.60" y="105.068" width="23.90" height="0.551" fill="#6e6ef0"/>
<rect x="510.60" y="105.569" width="23.90" height="0.551" fill="#6a6af0"/>
<rect x="510.60" y="106.070" width="23.90" height="1.051" fill="#5959ee"/>
<rect x="510.60" y="107.071" width="23.90" height="1.051" fill="#5151ee"/>
<rect x="510.60" y="108.072" width="23.90" height="1.051" fill="#5151ed"/>
<rect x="510.60" y="109.074" width="23.90" height="0.551" fill="#5252ee"/>
<rect x="510.60" y="109.574" width="23.90" height="1.552" fill="#5d5def"/>
<rect x="510.60" y="111.077" width="23.90" height="0.551" fill="#6060ef"/>
<rect x="510.60" y="111.577" width="23.90" height="1.051" fill="#5c5cef"/>
<rect x="510.60" y="112.579" width="23.90" height="0.551" fill="#5b5bee"/>
<rect x="510.60" y="113.079" width="23.90" height="0.551" fill="#5959ee"/>
<rect x="510.60" y="113.580" width="23.90" height="0.551" fill="#5c5cef"/>
<rect x="510.60" y="114.081" width="23.90" height="1.051" fill="#6262ef"/>
<rect x="510.60" y="115.082" width="23.90" height="0.551" fill="#5555ee"/>
<rect x="510.60" y="115.583" width="23.90" height="0.551" fill="#7171f1"/>
<rect x="510.60" y="116.083" width="23.90" height="0.551" fill="#6767f0"/>
<rect x="510.60" y="116.584" width="23.90" height="0.551" fill="#7070f1"/>
<rect x="510.60" y="117.085" width="23.90" height="0.551" fill="#7474f1"/>
<rect x="510.60" y="117.585" width="23.90" height="0.551" fill="#6969f0"/>
<rect x="510.60" y="118.086" width="23.90" height="0.551" fill="#6f6ff0"/>
<rect x="510.60" y="118.587" width="23.90" height="1.051" fill="#5959ee"/>
<rect x="510.60" y="119.588" width="23.90" height="0.551" fill="#7474f1"/>
<rect x="510.60" y="120.089" width="23.90" height="0.551" fill="#7979f1"/>
<rect x="510.60" y="120.589" width="23.90" height="1.051" fill="#6e6ef0"/>
<rect x="510.60" y="121.591" width="23.90" height="0.551" fill="#7474f1"/>
<rect x="510.60" y="122.091" width="23.90" height="1.552" fill="#7676f1"/>
<rect x="510.60" y="123.593" width="23.90" height="1.051" fill="#5858ee"/>
<rect x="510.60" y="124.595" width="23.90" height="0.551" fill="#5757ee"/>
<rect x="510.60" y="125.095" width="23.90" height="1.051" fill="#5050ed"/>
<rect x="510.60" y="126.097" width="23.90" height="1.051" fill="#5757ee"/>
<rect x="510.60" y="127.098" width="23.90" height="1.051" fill="#6b6bf0"/>
<rect x="510.60" y="128.099" width="23.90" height="1.051" fill="#6969f0"/>
<rect x="510.60" y="129.101" width="23.90" height="0.551" fill="#6e6ef0"/>
<rect x="510.60" y="129.601" width="23.90" height="1.051" fill="#6a6af0"/>
<rect x="510.60" y="130.603" width="23.90" height="0.551" fill="#6363ef"/>
<rect x="510.60" y="131.103" width="23.90" height="0.551" fill="#4b4bed"/>
<rect x="510.60" y="131.604" width="23.90" height="1.051" fill="#5555ee"/>
<rect x="510.60" y="132.605" width="23.90" height="0.551" fill="#5757ee"/>
<rect x="510.60" y="133.106" width="23.90" height="0.551" fill="#4e4eed"/>
<rect x="510.60" y="133.607" width="23.90" height="0.551" fill="#4949ed"/>
<rect x="510.60" y="134.107" width="23.90" height="0.551" fill="#4242ec"/>
<rect x="510.60" y="134.608" width="23.90" height="0.551" fill="#4d4ded"/>
<rect x="510.60" y="135.109" width="23.90" height="1.051" fill="#4141ec"/>
<rect x="510.60" y="136.110" width="23.90" height="1.051" fill="#4343ec"/>
<rect x="510.60" y="137.111" width="23.90" height="0.551" fill="#4646ec"/>
<rect x="510.60" y="137.612" width="23.90" height="0.551" fill="#3e3eec"/>
<rect x="510.60" y="138.113" width="23.90" height="0.551" fill="#4949ed"/>
<rect x="510.60" y="138.613" width="23.90" height="1.051" fill="#3d3dec"/>
<rect x="510.60" y="139.615" width="23.90" height="0.551" fill="#4646ec"/>
<rect x="510.60" y="140.115" width="23.90" height="1.051" fill="#3b3beb"/>
<rect x="510.60" y="141.117" width="23.90" height="0.551" fill="#4242ec"/>
<rect x="510.60" y="141.617" width="23.90" height="1.051" fill="#4343ec"/>
<rect x="510.60" y="142.619" width="23.90" height="1.051" fill="#4040ec"/>
<rect x="510.60" y="143.620" width="23.90" height="0.551" fill="#3c3ceb"/>
<rect x="510.60" y="144.121" width="23.90" height="0.551" fill="#4747ed"/>
<rect x="510.60" y="144.621" width="23.90" height="1.051" fill="#5c5cef"/>
<rect x="510.60" y="145.623" width="23.90" height="0.551" fill="#5858ee"/>
<rect x="510.60" y="146.123" width="23.90" height="1.051" fill="#5050ed"/>
<rect x="510.60" y="147.125" width="23.90" height="0.551" fill="#5757ee"/>
<rect x="510.60" y="147.626" width="23.90" height="0.551" fill="#5353ee"/>
<rect x="510.60" y="148.126" width="23.90" height="1.051" fill="#4949ed"/>
<rect x="510.60" y="149.128" width="23.90" height="0.551" fill="#4747ed"/>
<rect x="510.60" y="149.628" width="23.90" height="1.051" fill="#4d4ded"/>
<rect x="510.60" y="150.630" width="23.90" height="0.551" fill="#3d3deb"/>
<rect x="510.60" y="151.130" width="23.90" height="0.551" fill="#4e4eed"/>
<rect x="510.60" y="151.631" width="23.90" height="1.051" fill="#5050ed"/>
<rect x="510.60" y="152.632" width="23.90" height="0.551" fill="#4e4eed"/>
<rect x="510.60" y="153.133" width="23.90" height="0.551" fill="#5a5aee"/>
<rect x="510.60" y="153.634" width="23.90" height="0.551" fill="#5b5bee"/>
<rect x="510.60" y="154.134" width="23.90" height="0.551" fill="#5f5fef"/>
<rect x="510.60" y="154.635" width="23.90" height="0.551" fill="#5757ee"/>
<rect x="510.60" y="155.136" width="23.90" height="0.551" fill="#5e5eef"/>
<rect x="510.60" y="155.636" width="23.90" height="0.551" fill="#6060ef"/>
<rect x="510.60" y="156.137" width="23.90" height="1.051" fill="#5959ee"/>
<rect x="510.60" y="157.138" width="23.90" height="1.051" fill="#4c4ced"/>
<rect x="510.60" y="158.140" width="23.90" height="1.051" fill="#3b3beb"/>
<rect x="510.60" y="159.141" width="23.90" height="1.051" fill="#4343ec"/>
<rect x="510.60" y="160.142" width="23.90" height="1.051" fill="#5353ee"/>
<rect x="510.60" y="161.144" width="23.90" height="1.051" fill="#6e6ef0"/>
<rect x="510.60" y="162.145" width="23.90" height="1.051" fill="#6d6df0"/>
<rect x="510.60" y="163.146" width="23.90" height="1.552" fill="#5d5def"/>
<rect x="510.60" y="164.648" width="23.90" height="1.051" fill="#5757ee"/>
<rect x="510.60" y="165.650" width="23.90" height="0.551" fill="#5b5bee"/>
<rect x="510.60" y="166.150" width="23.90" height="0.551" fill="#5858ee"/>
<rect x="510.60" y="166.651" width="23.90" height="0.551" fill="#5d5def"/>
<rect x="510.60" y="167.152" width="23.90" height="0.551" fill="#6666f0"/>
<rect x="510.60" y="167.652" width="23.90" height="0.551" fill="#6262ef"/>
<rect x="510.60" y="168.153" width="23.90" height="0.551" fill="#6868f0"/>
<rect x="510.60" y="168.654" width="23.90" height="0.551" fill="#6666f0"/>
<rect x="510.60" y="169.154" width="23.90" height="0.551" fill="#6363ef"/>
<rect x="510.60" y="169.655" width="23.90" height="1.051" fill="#6767f0"/>
<rect x="510.60" y="170.656" width="23.90" height="0.551" fill="#6363ef"/>
<rect x="510.60" y="171.157" width="23.90" height="1.051" fill="#6a6af0"/>
<rect x="510.60" y="172.158" width="23.90" height="0.551" fill="#7474f1"/>
<rect x="510.60" y="172.659" width="23.90" height="0.551" fill="#7272f1"/>
<rect x="510.60" y="173.160" width="23.90" height="0.551" fill="#6565ef"/>
<rect x="510.60" y="173.660" width="23.90" height="1.051" fill="#6868f0"/>
<rect x="510.60" y="174.662" width="23.90" height="1.051" fill="#5e5eef"/>
<rect x="510.60" y="175.663" width="23.90" height="0.551" fill="#6262ef"/>
<rect x="510.60" y="176.164" width="23.90" height="1.051" fill="#5d5def"/>
<rect x="510.60" y="177.165" width="23.90" height="1.051" fill="#5e5eef"/>
<rect x="510.60" y="178.166" width="23.90" height="0.551" fill="#6060ef"/>
<rect x="510.60" y="178.667" width="23.90" height="1.051" fill="#6b6bf0"/>
<rect x="510.60" y="179.668" width="23.90" height="1.051" fill="#6060ef"/>
<rect x="510.60" y="180.670" width="23.90" height="1.051" fill="#5454ee"/>
<rect x="510.60" y="181.671" width="23.90" height="0.551" fill="#5d5def"/>
<rect x="510.60" y="182.172" width="23.90" height="0.551" fill="#4646ec"/>
<rect x="510.60" y="182.672" width="23.90" height="0.551" fill="#4d4ded"/>
<rect x="510.60" y="183.173" width="23.90" height="0.551" fill="#6f6ff0"/>
<rect x="510.60" y="183.674" width="23.90" height="0.551" fill="#5959ee"/>
<rect x="510.60" y="184.174" width="23.90" height="1.051" fill="#6565ef"/>
<rect x="510.60" y="185.176" width="23.90" height="0.551" fill="#5f5fef"/>
<rect x="510.60" y="185.677" width="23.90" height="0.551" fill="#3131ea"/>
<rect x="510.60" y="186.177" width="23.90" height="0.551" fill="#3636eb"/>
<rect x="510.60" y="186.678" width="23.90" height="0.551" fill="#3030ea"/>
<rect x="510.60" y="187.179" width="23.90" height="0.551" fill="#2e2eea"/>
<rect x="510.60" y="187.679" width="23.90" height="0.551" fill="#4747ed"/>
<rect x="510.60" y="188.180" width="23.90" height="1.552" fill="#4545ec"/>
<rect x="510.60" y="189.682" width="23.90" height="1.051" fill="#3c3ceb"/>
<rect x="510.60" y="190.683" width="23.90" height="0.551" fill="#3737eb"/>
<rect x="510.60" y="191.184" width="23.90" height="0.551" fill="#4444ec"/>
<rect x="510.60" y="191.685" width="23.90" height="1.051" fill="#4545ec"/>
<rect x="510.60" y="192.686" width="23.90" height="0.551" fill="#4d4ded"/>
<rect x="510.60" y="193.187" width="23.90" height="1.051" fill="#5757ee"/>
<rect x="510.60" y="194.188" width="23.90" height="0.551" fill="#4949ed"/>
<rect x="510.60" y="194.689" width="23.90" height="1.051" fill="#4848ed"/>
<rect x="510.60" y="195.690" width="23.90" height="1.051" fill="#5858ee"/>
<rect x="510.60" y="196.691" width="23.90" height="1.051" fill="#6565ef"/>
<rect x="510.60" y="197.693" width="23.90" height="0.551" fill="#6262ef"/>
<rect x="510.60" y="198.193" width="23.90" height="1.051" fill="#5a5aee"/>
<rect x="510.60" y="199.195" width="23.90" height="1.051" fill="#5353ee"/>
<rect x="510.60" y="200.196" width="23.90" height="0.551" fill="#4d4ded"/>
<rect x="510.60" y="200.697" width="23.90" height="0.551" fill="#4f4fed"/>
<rect x="510.60" y="201.197" width="23.90" height="0.551" fill="#5858ee"/>
<rect x="510.60" y="201.698" width="23.90" height="1.552" fill="#5353ee"/>
<rect x="534.20" y="54.000" width="23.90" height="0.551" fill="#8383f2"/>
<rect x="534.20" y="54.501" width="23.90" height="0.551" fill="#8b8bf3"/>
<rect x="534.20" y="55.001" width="23.90" height="0.551" fill="#8585f3"/>
<rect x="534.20" y="55.502" width="23.90" height="0.551" fill="#8686f3"/>
<rect x="534.20" y="56.003" width="23.90" height="0.551" fill="#9191f4"/>
<rect x="534.20" y="56.503" width="23.90" height="0.551" fill="#8b8bf3"/>
<rect x="534.20" y="57.004" width="23.90" height="0.551" fill="#8585f3"/>
<rect x="534.20" y="57.505" width="23.90" height="0.551" fill="#8a8af3"/>
<rect x="534.20" y="58.005" width="23.90" height="1.051" fill="#8080f2"/>
<rect x="534.20" y="59.007" width="23.90" height="0.551" fill="#8181f2"/>
<rect x="534.20" y="59.507" width="23.90" height="0.551" fill="#8282f2"/>
<rect x="534.20" y="60.008" width="23.90" height="1.051" fill="#8787f3"/>
<rect x="534.20" y="61.009" width="23.90" height="0.551" fill="#7e7ef2"/>
<rect x="534.20" y="61.510" width="23.90" height="0.551" fill="#7d7df2"/>
<rect x="534.20" y="62.011" width="23.90" height="0.551" fill="#7979f1"/>
<rect x="534.20" y="62.511" width="23.90" height="0.551" fill="#8282f2"/>
<rect x="534.20" y="63.012" width="23.90" height="1.051" fill="#7e7ef2"/>
<rect x="534.20" y="64.013" width="23.90" height="0.551" fill="#8484f3"/>
<rect x="534.20" y="64.514" width="23.90" height="0.551" fill="#7d7df2"/>
<rect x="534.20" y="65.015" width="23.90" height="2.053" fill="#7878f1"/>
<rect x="534.20" y="67.017" width="23.90" height="0.551" fill="#8181f2"/>
<rect x="534.20" y="67.518" width="23.90" height="1.051" fill="#8383f2"/>
<rect x="534.20" y="68.519" width="23.90" height="0.551" fill="#8989f3"/>
<rect x="534.20" y="69.020" width="23.90" height="0.551" fill="#9595f4"/>
<rect x="534.20" y="69.521" width="23.90" height="1.051" fill="#9999f5"/>
<rect x="534.20" y="70.522" width="23.90" height="1.051" fill="#9c9cf5"/>
<rect x="534.20" y="71.523" width="23.90" height="0.551" fill="#8c8cf3"/>
<rect x="534.20" y="72.024" width="23.90" height="0.551" fill="#9595f4"/>
<rect x="534.20" y="72.525" width="23.90" height="0.551" fill="#9797f4"/>
<rect x="534.20" y="73.026" width="23.90" height="0.551" fill="#9b9bf5"/>
<rect x="534.20" y="73.526" width="23.90" height="0.551" fill="#f36e6e"/>
<rect x="534.20" y="74.027" width="23.90" height="1.552" fill="#f47979"/>
<rect x="534.20" y="75.529" width="23.90" height="0.551" fill="#f58585"/>
<rect x="534.20" y="76.030" width="23.90" height="1.051" fill="#f57f7f"/>
<rect x="534.20" y="77.031" width="23.90" height="1.051" fill="#f58787"/>
<rect x="534.20" y="78.032" width="23.90" height="0.551" fill="#f47373"/>
<rect x="534.20" y="78.533" width="23.90" height="0.551" fill="#f58585"/>
<rect x="534.20" y="79.034" width="23.90" height="0.551" fill="#f47a7a"/>
<rect x="534.20" y="79.534" width="23.90" height="0.551" fill="#f26161"/>
<rect x="534.20" y="80.035" width="23.90" height="0.551" fill="#f36c6c"/>
<rect x="534.20" y="80.536" width="23.90" height="0.551" fill="#f36666"/>
<rect x="534.20" y="81.036" width="23.90" height="1.051" fill="#f37070"/>
<rect x="534.20" y="82.038" width="23.90" height="0.551" fill="#f7a4a4"/>
<rect x="534.20" y="82.538" width="23.90" height="0.551" fill="#f7a0a0"/>
<rect x="534.20" y="83.039" width="23.90" height="0.551" fill="#f8a6a6"/>
<rect x="534.20" y="83.540" width="23.90" height="1.051" fill="#f79d9d"/>
<rect x="534.20" y="84.541" width="23.90" height="1.051" fill="#f79e9e"/>
<rect x="534.20" y="85.542" width="23.90" height="2.053" fill="#f7a2a2"/>
<rect x="534.20" y="87.545" width="23.90" height="0.551" fill="#f7a1a1"/>
<rect x="534.20" y="88.046" width="23.90" height="0.551" fill="#f8acac"/>
<rect x="534.20" y="88.546" width="23.90" height="0.551" fill="#f8abab"/>
<rect x="534.20" y="89.047" width="23.90" height="1.051" fill="#f8b0b0"/>
<rect x="534.20" y="90.048" width="23.90" height="0.551" fill="#f7a1a1"/>
<rect x="534.20" y="90.549" width="23.90" height="0.551" fill="#f69595"/>
<rect x="534.20" y="91.050" width="23.90" height="0.551" fill="#f79d9d"/>
<rect x="534.20" y="91.550" width="23.90" height="1.051" fill="#f69090"/>
<rect x="534.20" y="92.552" width="23.90" height="0.551" fill="#f69191"/>
<rect x="534.20" y="93.052" width="23.90" height="0.551" fill="#f68d8d"/>
<rect x="534.20" y="93.553" width="23.90" height="0.551" fill="#f69595"/>
<rect x="534.20" y="94.054" width="23.90" height="1.051" fill="#f58585"/>
<rect x="534.20" y="95.055" width="23.90" height="0.551" fill="#f79c9c"/>
<rect x="534.20" y="95.556" width="23.90" height="1.051" fill="#f69797"/>
<rect x="534.20" y="96.557" width="23.90" height="1.051" fill="#f69191"/>
<rect x="534.20" y="97.558" width="23.90" height="0.551" fill="#f69292"/>
<rect x="534.20" y="98.059" width="23.90" height="1.051" fill="#f68f8f"/>
<rect x="534.20" y="99.060" width="23.90" height="0.551" fill="#f47e7e"/>
<rect x="534.20" y="99.561" width="23.90" height="0.551" fill="#f58888"/>
<rect x="534.20" y="100.062" width="23.90" height="0.551" fill="#f58282"/>
<rect x="534.20" y="100.562" width="23.90" height="1.051" fill="#f58989"/>
<rect x="534.20" y="101.564" width="23.90" height="0.551" fill="#f58282"/>
<rect x="534.20" y="102.064" width="23.90" height="1.051" fill="#f68d8d"/>
<rect x="534.20" y="103.066" width="23.90" height="1.051" fill="#f58484"/>
<rect x="534.20" y="104.067" width="23.90" height="1.051" fill="#f69292"/>
<rect x="534.20" y="105.068" width="23.90" height="0.551" fill="#f47c7c"/>
<rect x="534.20" y="105.569" width="23.90" height="0.551" fill="#f47878"/>
<rect x="534.20" y="106.070" width="23.90" height="1.051" fill="#f47d7d"/>
<rect x="534.20" y="107.071" width="23.90" height="1.051" fill="#f47b7b"/>
<rect x="534.20" y="108.072" width="23.90" height="1.051" fill="#f58a8a"/>
<rect x="534.20" y="109.074" width="23.90" height="0.551" fill="#f47b7b"/>
<rect x="534.20" y="109.574" width="23.90" height="0.551" fill="#f68c8c"/>
<rect x="534.20" y="110.075" width="23.90" height="0.551" fill="#f69696"/>
<rect x="534.20" y="110.576" width="23.90" height="0.551" fill="#f68e8e"/>
<rect x="534.20" y="111.077" width="23.90" height="1.552" fill="#f69494"/>
<rect x="534.20" y="112.579" width="23.90" height="0.551" fill="#f69595"/>
<rect x="534.20" y="113.079" width="23.90" height="0.551" fill="#f79999"/>
<rect x="534.20" y="113.580" width="23.90" height="0.551" fill="#f79c9c"/>
<rect x="534.20" y="114.081" width="23.90" height="1.051" fill="#f79999"/>
<rect x="534.20" y="115.082" width="23.90" height="0.551" fill="#f8b2b2"/>
<rect x="534.20" y="115.583" width="23.90" height="0.551" fill="#f7a1a1"/>
<rect x="534.20" y="116.083" width="23.90" height="0.551" fill="#f79c9c"/>
<rect x="534.20" y="116.584" width="23.90" height="0.551" fill="#f7a0a0"/>
<rect x="534.20" y="117.085" width="23.90" height="0.551" fill="#f79a9a"/>
<rect x="534.20" y="117.585" width="23.90" height="0.551" fill="#f79999"/>
<rect x="534.20" y="118.086" width="23.90" height="0.551" fill="#f79b9b"/>
<rect x="534.20" y="118.587" width="23.90" height="1.051" fill="#f79d9d"/>
<rect x="534.20" y="119.588" width="23.90" height="0.551" fill="#f69898"/>
<rect x="534.20" y="120.089" width="23.90" height="0.551" fill="#f69797"/>
<rect x="534.20" y="120.589" width="23.90" height="1.051" fill="#f79d9d"/>
<rect x="534.20" y="121.591" width="23.90" height="0.551" fill="#f8a6a6"/>
<rect x="534.20" y="122.091" width="23.90" height="1.051" fill="#f79d9d"/>
<rect x="534.20" y="123.093" width="23.90" height="0.551" fill="#f79b9b"/>
<rect x="534.20" y="123.593" width="23.90" height="1.051" fill="#f68c8c"/>
<rect x="534.20" y="124.595" width="23.90" height="0.551" fill="#f58888"/>
<rect x="534.20" y="125.095" width="23.90" height="1.051" fill="#f58b8b"/>
<rect x="534.20" y="126.097" width="23.90" height="1.051" fill="#f58181"/>
<rect x="534.20" y="127.098" width="23.90" height="1.051" fill="#f8a7a7"/>
<rect x="534.20" y="128.099" width="23.90" height="1.051" fill="#f7a1a1"/>
<rect x="534.20" y="129.101" width="23.90" height="0.551" fill="#f8a6a6"/>
<rect x="534.20" y="129.601" width="23.90" height="1.051" fill="#f8a8a8"/>
<rect x="534.20" y="130.603" width="23.90" height="0.551" fill="#f7a0a0"/>
<rect x="534.20" y="131.103" width="23.90" height="0.551" fill="#f79e9e"/>
<rect x="534.20" y="131.604" width="23.90" height="1.051" fill="#f7a3a3"/>
<rect x="534.20" y="132.605" width="23.90" height="0.551" fill="#f8a9a9"/>
<rect x="534.20" y="133.106" width="23.90" height="0.551" fill="#f69797"/>
<rect x="534.20" y="133.607" width="23.90" height="0.551" fill="#f79d9d"/>
<rect x="534.20" y="134.107" width="23.90" height="0.551" fill="#f68c8c"/>
<rect x="534.20" y="134.608" width="23.90" height="0.551" fill="#f79c9c"/>
<rect x="534.20" y="135.109" width="23.90" height="1.051" fill="#f8acac"/>
<rect x="534.20" y="136.110" width="23.90" height="1.051" fill="#f8abab"/>
<rect x="534.20" y="137.111" width="23.90" height="0.551" fill="#f9b6b6"/>
<rect x="534.20" y="137.612" width="23.90" height="0.551" fill="#f79a9a"/>
<rect x="534.20" y="138.113" width="23.90" height="0.551" fill="#f79e9e"/>
<rect x="534.20" y="138.613" width="23.90" height="1.051" fill="#f68f8f"/>
<rect x="534.20" y="139.615" width="23.90" height="0.551" fill="#f7a2a2"/>
<rect x="534.20" y="140.115" width="23.90" height="1.051" fill="#f79f9f"/>
<rect x="534.20" y="141.117" width="23.90" height="0.551" fill="#f69696"/>
<rect x="534.20" y="141.617" width="23.90" height="1.051" fill="#f69191"/>
<rect x="534.20" y="142.619" width="23.90" height="1.051" fill="#f68e8e"/>
<rect x="534.20" y="143.620" width="23.90" height="0.551" fill="#f58888"/>
<rect x="534.20" y="144.121" width="23.90" height="0.551" fill="#f69797"/>
<rect x="534.20" y="144.621" width="23.90" height="1.051" fill="#f79d9d"/>
<rect x="534.20" y="145.623" width="23.90" height="0.551" fill="#f7a2a2"/>
<rect x="534.20" y="146.123" width="23.90" height="1.051" fill="#f7a0a0"/>
<rect x="534.20" y="147.125" width="23.90" height="0.551" fill="#f79d9d"/>
<rect x="534.20" y="147.626" width="23.90" height="0.551" fill="#f79b9b"/>
<rect x="534.20" y="148.126" width="23.90" height="1.051" fill="#f7a0a0"/>
<rect x="534.20" y="149.128" width="23.90" height="0.551" fill="#f8a8a8"/>
<rect x="534.20" y="149.628" width="23.90" height="1.051" fill="#f7a2a2"/>
<rect x="534.20" y="150.630" width="23.90" height="0.551" fill="#f69898"/>
<rect x="534.20" y="151.130" width="23.90" height="0.551" fill="#f69494"/>
<rect x="534.20" y="151.631" width="23.90" height="1.051" fill="#f69090"/>
<rect x="534.20" y="152.632" width="23.90" height="0.551" fill="#f68d8d"/>
<rect x="534.20" y="153.133" width="23.90" height="0.551" fill="#f7a4a4"/>
<rect x="534.20" y="153.634" width="23.90" height="0.551" fill="#f7a1a1"/>
<rect x="534.20" y="154.134" width="23.90" height="0.551" fill="#f7a2a2"/>
<rect x="534.20" y="154.635" width="23.90" height="0.551" fill="#f8a6a6"/>
<rect x="534.20" y="155.136" width="23.90" height="0.551" fill="#f8adad"/>
<rect x="534.20" y="155.636" width="23.90" height="0.551" fill="#f8aeae"/>
<rect x="534.20" y="156.137" width="23.90" height="1.051" fill="#f8acac"/>
<rect x="534.20" y="157.138" width="23.90" height="1.051" fill="#f8b0b0"/>
<rect x="534.20" y="158.140" width="23.90" height="2.053" fill="#f9bbbb"/>
<rect x="534.20" y="160.142" width="23.90" height="1.051" fill="#f9b9b9"/>
<rect x="534.20" y="161.144" width="23.90" height="1.051" fill="#f8aaaa"/>
<rect x="534.20" y="162.145" width="23.90" height="1.051" fill="#f8b0b0"/>
<rect x="534.20" y="163.146" width="23.90" height="1.051" fill="#fac5c5"/>
<rect x="534.20" y="164.148" width="23.90" height="0.551" fill="#f9bebe"/>
<rect x="534.20" y="164.648" width="23.90" height="1.051" fill="#fac8c8"/>
<rect x="534.20" y="165.650" width="23.90" height="0.551" fill="#fac0c0"/>
<rect x="534.20" y="166.150" width="23.90" height="0.551" fill="#fbcdcd"/>
<rect x="534.20" y="166.651" width="23.90" height="0.551" fill="#f9bebe"/>
<rect x="534.20" y="167.152" width="23.90" height="0.551" fill="#f8a7a7"/>
<rect x="534.20" y="167.652" width="23.90" height="0.551" fill="#f58484"/>
<rect x="534.20" y="168.153" width="23.90" height="0.551" fill="#f58a8a"/>
<rect x="534.20" y="168.654" width="23.90" height="0.551" fill="#f47f7f"/>
<rect x="534.20" y="169.154" width="23.90" height="0.551" fill="#f58181"/>
<rect x="534.20" y="169.655" width="23.90" height="1.051" fill="#f47676"/>
<rect x="534.20" y="170.656" width="23.90" height="0.551" fill="#f69191"/>
<rect x="534.20" y="171.157" width="23.90" height="1.051" fill="#f58080"/>
<rect x="534.20" y="172.158" width="23.90" height="0.551" fill="#f47d7d"/>
<rect x="534.20" y="172.659" width="23.90" height="0.551" fill="#f68e8e"/>
<rect x="534.20" y="173.160" width="23.90" height="0.551" fill="#f68f8f"/>
<rect x="534.20" y="173.660" width="23.90" height="1.051" fill="#f69090"/>
<rect x="534.20" y="174.662" width="23.90" height="1.051" fill="#f58a8a"/>
<rect x="534.20" y="175.663" width="23.90" height="0.551" fill="#f69090"/>
<rect x="534.20" y="176.164" width="23.90" height="2.053" fill="#f58a8a"/>
<rect x="534.20" y="178.166" width="23.90" height="0.551" fill="#f68d8d"/>
<rect x="534.20" y="178.667" width="23.90" height="0.551" fill="#f47474"/>
<rect x="534.20" y="179.168" width="23.90" height="0.551" fill="#f58585"/>
<rect x="534.20" y="179.668" width="23.90" height="1.051" fill="#f58686"/>
<rect x="534.20" y="180.670" width="23.90" height="1.051" fill="#f58181"/>
<rect x="534.20" y="181.671" width="23.90" height="1.051" fill="#f57f7f"/>
<rect x="534.20" y="182.672" width="23.90" height="0.551" fill="#f58282"/>
<rect x="534.20" y="183.173" width="23.90" height="0.551" fill="#f69292"/>
<rect x="534.20" y="183.674" width="23.90" height="0.551" fill="#f68d8d"/>
<rect x="534.20" y="184.174" width="23.90" height="1.051" fill="#f69696"/>
<rect x="534.20" y="185.176" width="23.90" height="0.551" fill="#f9baba"/>
<rect x="534.20" y="185.677" width="23.90" height="0.551" fill="#f79c9c"/>
<rect x="534.20" y="186.177" width="23.90" height="0.551" fill="#f79f9f"/>
<rect x="534.20" y="186.678" width="23.90" height="0.551" fill="#f7a4a4"/>
<rect x="534.20" y="187.179" width="23.90" height="0.551" fill="#f79e9e"/>
<rect x="534.20" y="187.679" width="23.90" height="0.551" fill="#f8a7a7"/>
<rect x="534.20" y="188.180" width="23.90" height="1.552" fill="#f7a1a1"/>
<rect x="534.20" y="189.682" width="23.90" height="1.051" fill="#f9bbbb"/>
<rect x="534.20" y="190.683" width="23.90" height="0.551" fill="#f9b8b8"/>
<rect x="534.20" y="191.184" width="23.90" height="0.551" fill="#f9b4b4"/>
<rect x="534.20" y="191.685" width="23.90" height="1.051" fill="#f8b0b0"/>
<rect x="534.20" y="192.686" width="23.90" height="0.551" fill="#f9bdbd"/>
<rect x="534.20" y="193.187" width="23.90" height="1.051" fill="#f9b8b8"/>
<rect x="534.20" y="194.188" width="23.90" height="0.551" fill="#f9bcbc"/>
<rect x="534.20" y="194.689" width="23.90" height="1.051" fill="#f9b4b4"/>
<rect x="534.20" y="195.690" width="23.90" height="1.051" fill="#f8acac"/>
<rect x="534.20" y="196.691" width="23.90" height="0.551" fill="#f9baba"/>
<rect x="534.20" y="197.192" width="23.90" height="0.551" fill="#f79b9b"/>
<rect x="534.20" y="197.693" width="23.90" height="0.551" fill="#f69898"/>
<rect x="534.20" y="198.193" width="23.90" height="1.051" fill="#f69595"/>
<rect x="534.20" y="199.195" width="23.90" height="0.551" fill="#f58080"/>
<rect x="534.20" y="199.695" width="23.90" height="0.551" fill="#f69494"/>
<rect x="534.20" y="200.196" width="23.90" height="0.551" fill="#f69292"/>
<rect x="534.20" y="200.697" width="23.90" height="0.551" fill="#f69191"/>
<rect x="534.20" y="201.197" width="23.90" height="0.551" fill="#f58989"/>
<rect x="534.20" y="201.698" width="23.90" height="1.051" fill="#f58a8a"/>
<rect x="534.20" y="202.699" width="23.90" height="0.551" fill="#f47e7e"/>
<rect x="557.80" y="54.000" width="23.90" height="0.551" fill="#8c8cf3"/>
<rect x="557.80" y="54.501" width="23.90" height="0.551" fill="#8888f3"/>
<rect x="557.80" y="55.001" width="23.90" height="0.551" fill="#8b8bf3"/>
<rect x="557.80" y="55.502" width="23.90" height="0.551" fill="#8d8df3"/>
<rect x="557.80" y="56.003" width="23.90" height="0.551" fill="#8080f2"/>
<rect x="557.80" y="56.503" width="23.90" height="0.551" fill="#7272f1"/>
<rect x="557.80" y="57.004" width="23.90" height="0.551" fill="#8888f3"/>
<rect x="557.80" y="57.505" width="23.90" height="0.551" fill="#8b8bf3"/>
<rect x="557.80" y="58.005" width="23.90" height="1.051" fill="#9d9df5"/>
<rect x="557.80" y="59.007" width="23.90" height="0.551" fill="#a3a3f6"/>
<rect x="557.80" y="59.507" width="23.90" height="0.551" fill="#b8b8f8"/>
<rect x="557.80" y="60.008" width="23.90" height="1.051" fill="#aaaaf6"/>
<rect x="557.80" y="61.009" width="23.90" height="0.551" fill="#a5a5f6"/>
<rect x="557.80" y="61.510" width="23.90" height="0.551" fill="#aaaaf6"/>
<rect x="557.80" y="62.011" width="23.90" height="0.551" fill="#bcbcf8"/>
<rect x="557.80" y="62.511" width="23.90" height="0.551" fill="#c2c2f9"/>
<rect x="557.80" y="63.012" width="23.90" height="1.051" fill="#bcbcf8"/>
<rect x="557.80" y="64.013" width="23.90" height="1.051" fill="#bfbff8"/>
<rect x="557.80" y="65.015" width="23.90" height="1.051" fill="#c4c4f9"/>
<rect x="557.80" y="66.016" width="23.90" height="1.051" fill="#b7b7f8"/>
<rect x="557.80" y="67.017" width="23.90" height="0.551" fill="#9d9df5"/>
<rect x="557.80" y="67.518" width="23.90" height="1.051" fill="#9696f4"/>
<rect x="557.80" y="68.519" width="23.90" height="0.551" fill="#8c8cf3"/>
<rect x="557.80" y="69.020" width="23.90" height="0.551" fill="#a1a1f5"/>
<rect x="557.80" y="69.521" width="23.90" height="1.051" fill="#9494f4"/>
<rect x="557.80" y="70.522" width="23.90" height="1.051" fill="#9797f4"/>
<rect x="557.80" y="71.523" width="23.90" height="0.551" fill="#9e9ef5"/>
<rect x="557.80" y="72.024" width="23.90" height="0.551" fill="#9d9df5"/>
<rect x="557.80" y="72.525" width="23.90" height="0.551" fill="#b3b3f7"/>
<rect x="557.80" y="73.026" width="23.90" height="0.551" fill="#aaaaf6"/>
<rect x="557.80" y="73.526" width="23.90" height="0.551" fill="#fac2c2"/>
<rect x="557.80" y="74.027" width="23.90" height="1.051" fill="#fac1c1"/>
<rect x="557.80" y="75.028" width="23.90" height="0.551" fill="#f9b7b7"/>
<rect x="557.80" y="75.529" width="23.90" height="0.551" fill="#f9b4b4"/>
<rect x="557.80" y="76.030" width="23.90" height="1.051" fill="#f8afaf"/>
<rect x="557.80" y="77.031" width="23.90" height="1.051" fill="#fac3c3"/>
<rect x="557.80" y="78.032" width="23.90" height="0.551" fill="#f8a9a9"/>
<rect x="557.80" y="78.533" width="23.90" height="0.551" fill="#f79e9e"/>
<rect x="557.80" y="79.034" width="23.90" height="0.551" fill="#f8a8a8"/>
<rect x="557.80" y="79.534" width="23.90" height="0.551" fill="#f8b0b0"/>
<rect x="557.80" y="80.035" width="23.90" height="0.551" fill="#f8b1b1"/>
<rect x="557.80" y="80.536" width="23.90" height="0.551" fill="#f7a4a4"/>
<rect x="557.80" y="81.036" width="23.90" height="0.551" fill="#f9b3b3"/>
<rect x="557.80" y="81.537" width="23.90" height="0.551" fill="#f8b0b0"/>
<rect x="557.80" y="82.038" width="23.90" height="0.551" fill="#f8a9a9"/>
<rect x="557.80" y="82.538" width="23.90" height="0.551" fill="#f79e9e"/>
<rect x="557.80" y="83.039" width="23.90" height="0.551" fill="#f69595"/>
<rect x="557.80" y="83.540" width="23.90" height="1.051" fill="#f79c9c"/>
<rect x="557.80" y="84.541" width="23.90" height="1.051" fill="#f68f8f"/>
<rect x="557.80" y="85.542" width="23.90" height="1.051" fill="#f8adad"/>
<rect x="557.80" y="86.544" width="23.90" height="1.051" fill="#f7a3a3"/>
<rect x="557.80" y="87.545" width="23.90" height="0.551" fill="#f8a7a7"/>
<rect x="557.80" y="88.046" width="23.90" height="0.551" fill="#f79b9b"/>
<rect x="557.80" y="88.546" width="23.90" height="0.551" fill="#f69191"/>
<rect x="557.80" y="89.047" width="23.90" height="0.551" fill="#f69898"/>
<rect x="557.80" y="89.548" width="23.90" height="1.051" fill="#f79a9a"/>
<rect x="557.80" y="90.549" width="23.90" height="0.551" fill="#f69898"/>
<rect x="557.80" y="91.050" width="23.90" height="0.551" fill="#f69797"/>
<rect x="557.80" y="91.550" width="23.90" height="1.051" fill="#f8a8a8"/>
<rect x="557.80" y="92.552" width="23.90" height="0.551" fill="#f79c9c"/>
<rect x="557.80" y="93.052" width="23.90" height="0.551" fill="#f8afaf"/>
<rect x="557.80" y="93.553" width="23.90" height="0.551" fill="#f8abab"/>
<rect x="557.80" y="94.054" width="23.90" height="1.051" fill="#f8acac"/>
<rect x="557.80" y="95.055" width="23.90" height="0.551" fill="#f79a9a"/>
<rect x="557.80" y="95.556" width="23.90" height="1.051" fill="#f8a7a7"/>
<rect x="557.80" y="96.557" width="23.90" height="1.051" fill="#f79f9f"/>
<rect x="557.80" y="97.558" width="23.90" height="0.551" fill="#f79c9c"/>
<rect x="557.80" y="98.059" width="23.90" height="1.051" fill="#f7a0a0"/>
<rect x="557.80" y="99.060" width="23.90" height="0.551" fill="#f8abab"/>
<rect x="557.80" y="99.561" width="23.90" height="0.551" fill="#f8adad"/>
<rect x="557.80" y="100.062" width="23.90" height="0.551" fill="#f9b5b5"/>
<rect x="557.80" y="100.562" width="23.90" height="1.051" fill="#f9baba"/>
<rect x="557.80" y="101.564" width="23.90" height="0.551" fill="#f9b4b4"/>
<rect x="557.80" y="102.064" width="23.90" height="1.051" fill="#fbcccc"/>
<rect x="557.80" y="103.066" width="23.90" height="1.051" fill="#fac6c6"/>
<rect x="557.80" y="104.067" width="23.90" height="1.051" fill="#f9b8b8"/>
<rect x="557.80" y="105.068" width="23.90" height="0.551" fill="#f9b4b4"/>
<rect x="557.80" y="105.569" width="23.90" height="0.551" fill="#f9b9b9"/>
<rect x="557.80" y="106.070" width="23.90" height="1.051" fill="#fac4c4"/>
<rect x="557.80" y="107.071" width="23.90" height="1.051" fill="#fbcdcd"/>
<rect x="557.80" y="108.072" width="23.90" height="1.051" fill="#fabfbf"/>
<rect x="557.80" y="109.074" width="23.90" height="0.551" fill="#f9bcbc"/>
<rect x="557.80" y="109.574" width="23.90" height="0.551" fill="#f79f9f"/>
<rect x="557.80" y="110.075" width="23.90" height="0.551" fill="#f8a9a9"/>
<rect x="557.80" y="110.576" width="23.90" height="0.551" fill="#f8aaaa"/>
<rect x="557.80" y="111.077" width="23.90" height="0.551" fill="#f7a0a0"/>
<rect x="557.80" y="111.577" width="23.90" height="1.051" fill="#f9b3b3"/>
<rect x="557.80" y="112.579" width="23.90" height="0.551" fill="#f8acac"/>
<rect x="557.80" y="113.079" width="23.90" height="0.551" fill="#f8b1b1"/>
<rect x="557.80" y="113.580" width="23.90" height="0.551" fill="#f8a7a7"/>
<rect x="557.80" y="114.081" width="23.90" height="1.051" fill="#f8b1b1"/>
<rect x="557.80" y="115.082" width="23.90" height="0.551" fill="#f7a3a3"/>
<rect x="557.80" y="115.583" width="23.90" height="0.551" fill="#f58989"/>
<rect x="557.80" y="116.083" width="23.90" height="0.551" fill="#f79999"/>
<rect x="557.80" y="116.584" width="23.90" height="0.551" fill="#f69595"/>
<rect x="557.80" y="117.085" width="23.90" height="0.551" fill="#f8a8a8"/>
<rect x="557.80" y="117.585" width="23.90" height="0.551" fill="#f8a5a5"/>
<rect x="557.80" y="118.086" width="23.90" height="0.551" fill="#f79c9c"/>
<rect x="557.80" y="118.587" width="23.90" height="1.051" fill="#f69595"/>
<rect x="557.80" y="119.588" width="23.90" height="0.551" fill="#f8acac"/>
<rect x="557.80" y="120.089" width="23.90" height="0.551" fill="#f8a9a9"/>
<rect x="557.80" y="120.589" width="23.90" height="1.051" fill="#f8adad"/>
<rect x="557.80" y="121.591" width="23.90" height="0.551" fill="#f8b0b0"/>
<rect x="557.80" y="122.091" width="23.90" height="1.051" fill="#f7a1a1"/>
<rect x="557.80" y="123.093" width="23.90" height="0.551" fill="#f8afaf"/>
<rect x="557.80" y="123.593" width="23.90" height="1.051" fill="#f8b1b1"/>
<rect x="557.80" y="124.595" width="23.90" height="0.551" fill="#f9b8b8"/>
<rect x="557.80" y="125.095" width="23.90" height="1.051" fill="#f8adad"/>
<rect x="557.80" y="126.097" width="23.90" height="1.051" fill="#f9b9b9"/>
<rect x="557.80" y="127.098" width="23.90" height="1.051" fill="#f7a3a3"/>
<rect x="557.80" y="128.099" width="23.90" height="1.051" fill="#f7a0a0"/>
<rect x="557.80" y="129.101" width="23.90" height="0.551" fill="#f79c9c"/>
<rect x="557.80" y="129.601" width="23.90" height="1.051" fill="#f79f9f"/>
<rect x="557.80" y="130.603" width="23.90" height="0.551" fill="#f79c9c"/>
<rect x="557.80" y="131.103" width="23.90" height="0.551" fill="#f79b9b"/>
<rect x="557.80" y="131.604" width="23.90" height="1.051" fill="#f79d9d"/>
<rect x="557.80" y="132.605" width="23.90" height="0.551" fill="#f79b9b"/>
<rect x="557.80" y="133.106" width="23.90" height="0.551" fill="#f69595"/>
<rect x="557.80" y="133.607" width="23.90" height="0.551" fill="#f69090"/>
<rect x="557.80" y="134.107" width="23.90" height="0.551" fill="#f69393"/>
<rect x="557.80" y="134.608" width="23.90" height="0.551" fill="#f69494"/>
<rect x="557.80" y="135.109" width="23.90" height="1.051" fill="#f8abab"/>
<rect x="557.80" y="136.110" width="23.90" height="1.051" fill="#f9b4b4"/>
<rect x="557.80" y="137.111" width="23.90" height="0.551" fill="#f8aaaa"/>
<rect x="557.80" y="137.612" width="23.90" height="0.551" fill="#f9b9b9"/>
<rect x="557.80" y="138.113" width="23.90" height="0.551" fill="#fac4c4"/>
<rect x="557.80" y="138.613" width="23.90" height="1.051" fill="#fac7c7"/>
<rect x="557.80" y="139.615" width="23.90" height="0.551" fill="#f9bbbb"/>
<rect x="557.80" y="140.115" width="23.90" height="1.051" fill="#f8a6a6"/>
<rect x="557.80" y="141.117" width="23.90" height="1.552" fill="#f69898"/>
<rect x="557.80" y="142.619" width="23.90" height="1.051" fill="#f69797"/>
<rect x="557.80" y="143.620" width="23.90" height="0.551" fill="#f69494"/>
<rect x="557.80" y="144.121" width="23.90" height="0.551" fill="#f8aaaa"/>
<rect x="557.80" y="144.621" width="23.90" height="1.051" fill="#f8aeae"/>
<rect x="557.80" y="145.623" width="23.90" height="0.551" fill="#f7a3a3"/>
<rect x="557.80" y="146.123" width="23.90" height="1.051" fill="#f7a2a2"/>
<rect x="557.80" y="147.125" width="23.90" height="0.551" fill="#f8b0b0"/>
<rect x="557.80" y="147.626" width="23.90" height="0.551" fill="#f69595"/>
<rect x="557.80" y="148.126" width="23.90" height="1.051" fill="#f58888"/>
<rect x="557.80" y="149.128" width="23.90" height="0.551" fill="#f69292"/>
<rect x="557.80" y="149.628" width="23.90" height="1.051" fill="#f69494"/>
<rect x="557.80" y="150.630" width="23.90" height="0.551" fill="#f69797"/>
<rect x="557.80" y="151.130" width="23.90" height="0.551" fill="#f9b8b8"/>
<rect x="557.80" y="151.631" width="23.90" height="1.051" fill="#f9b6b6"/>
<rect x="557.80" y="152.632" width="23.90" height="0.551" fill="#f9b5b5"/>
<rect x="557.80" y="153.133" width="23.90" height="0.551" fill="#f69797"/>
<rect x="557.80" y="153.634" width="23.90" height="0.551" fill="#f58888"/>
<rect x="557.80" y="154.134" width="23.90" height="0.551" fill="#f69090"/>
<rect x="557.80" y="154.635" width="23.90" height="0.551" fill="#f69797"/>
<rect x="557.80" y="155.136" width="23.90" height="0.551" fill="#f79d9d"/>
<rect x="557.80" y="155.636" width="23.90" height="0.551" fill="#f69898"/>
<rect x="557.80" y="156.137" width="23.90" height="1.051" fill="#f7a1a1"/>
<rect x="557.80" y="157.138" width="23.90" height="1.051" fill="#f69393"/>
<rect x="557.80" y="158.140" width="23.90" height="1.051" fill="#f69696"/>
<rect x="557.80" y="159.141" width="23.90" height="1.051" fill="#f69191"/>
<rect x="557.80" y="160.142" width="23.90" height="1.051" fill="#f47575"/>
<rect x="557.80" y="161.144" width="23.90" height="1.051" fill="#f58585"/>
<rect x="557.80" y="162.145" width="23.90" height="1.051" fill="#f47b7b"/>
<rect x="557.80" y="163.146" width="23.90" height="1.051" fill="#f58585"/>
<rect x="557.80" y="164.148" width="23.90" height="2.053" fill="#f58a8a"/>
<rect x="557.80" y="166.150" width="23.90" height="0.551" fill="#f68d8d"/>
<rect x="557.80" y="166.651" width="23.90" height="0.551" fill="#f47c7c"/>
<rect x="557.80" y="167.152" width="23.90" height="0.551" fill="#f68d8d"/>
<rect x="557.80" y="167.652" width="23.90" height="0.551" fill="#f68c8c"/>
<rect x="557.80" y="168.153" width="23.90" height="0.551" fill="#f58989"/>
<rect x="557.80" y="168.654" width="23.90" height="0.551" fill="#f47f7f"/>
<rect x="557.80" y="169.154" width="23.90" height="0.551" fill="#f47a7a"/>
<rect x="557.80" y="169.655" width="23.90" height="1.051" fill="#f58585"/>
<rect x="557.80" y="170.656" width="23.90" height="0.551" fill="#f58989"/>
<rect x="557.80" y="171.157" width="23.90" height="1.051" fill="#f47878"/>
<rect x="557.80" y="172.158" width="23.90" height="0.551" fill="#f58080"/>
<rect x="557.80" y="172.659" width="23.90" height="0.551" fill="#f58888"/>
<rect x="557.80" y="173.160" width="23.90" height="0.551" fill="#f68c8c"/>
<rect x="557.80" y="173.660" width="23.90" height="1.051" fill="#f69393"/>
<rect x="557.80" y="174.662" width="23.90" height="0.551" fill="#f68e8e"/>
<rect x="557.80" y="175.162" width="23.90" height="0.551" fill="#f7a0a0"/>
<rect x="557.80" y="175.663" width="23.90" height="0.551" fill="#f7a4a4"/>
<rect x="557.80" y="176.164" width="23.90" height="1.051" fill="#f69595"/>
<rect x="557.80" y="177.165" width="23.90" height="1.051" fill="#f79b9b"/>
<rect x="557.80" y="178.166" width="23.90" height="0.551" fill="#f69595"/>
<rect x="557.80" y="178.667" width="23.90" height="0.551" fill="#f58a8a"/>
<rect x="557.80" y="179.168" width="23.90" height="0.551" fill="#f58585"/>
<rect x="557.80" y="179.668" width="23.90" height="1.051" fill="#f58b8b"/>
<rect x="557.80" y="180.670" width="23.90" height="1.051" fill="#f7a5a5"/>
<rect x="557.80" y="181.671" width="23.90" height="1.051" fill="#f79a9a"/>
<rect x="557.80" y="182.672" width="23.90" height="0.551" fill="#f79c9c"/>
<rect x="557.80" y="183.173" width="23.90" height="0.551" fill="#f68e8e"/>
<rect x="557.80" y="183.674" width="23.90" height="0.551" fill="#f58484"/>
<rect x="557.80" y="184.174" width="23.90" height="1.051" fill="#f69696"/>
<rect x="557.80" y="185.176" width="23.90" height="0.551" fill="#f58383"/>
<rect x="557.80" y="185.677" width="23.90" height="0.551" fill="#f69696"/>
<rect x="557.80" y="186.177" width="23.90" height="0.551" fill="#f69797"/>
<rect x="557.80" y="186.678" width="23.90" height="0.551" fill="#f7a2a2"/>
<rect x="557.80" y="187.179" width="23.90" height="0.551" fill="#f79999"/>
<rect x="557.80" y="187.679" width="23.90" height="0.551" fill="#f7a0a0"/>
<rect x="557.80" y="188.180" width="23.90" height="0.551" fill="#f79e9e"/>
<rect x="557.80" y="188.681" width="23.90" height="1.051" fill="#f7a2a2"/>
<rect x="557.80" y="189.682" width="23.90" height="1.051" fill="#f79e9e"/>
<rect x="557.80" y="190.683" width="23.90" height="0.551" fill="#f79b9b"/>
<rect x="557.80" y="191.184" width="23.90" height="0.551" fill="#f8acac"/>
<rect x="557.80" y="191.685" width="23.90" height="1.051" fill="#f8a7a7"/>
<rect x="557.80" y="192.686" width="23.90" height="0.551" fill="#f79f9f"/>
<rect x="557.80" y="193.187" width="23.90" height="1.051" fill="#f7a0a0"/>
<rect x="557.80" y="194.188" width="23.90" height="0.551" fill="#f8b0b0"/>
<rect x="557.80" y="194.689" width="23.90" height="1.051" fill="#f69797"/>
<rect x="557.80" y="195.690" width="23.90" height="1.051" fill="#f79d9d"/>
<rect x="557.80" y="196.691" width="23.90" height="1.051" fill="#f8a7a7"/>
<rect x="557.80" y="197.693" width="23.90" height="0.551" fill="#f79f9f"/>
<rect x="557.80" y="198.193" width="23.90" height="1.051" fill="#f7a5a5"/>
<rect x="557.80" y="199.195" width="23.90" height="0.551" fill="#f69898"/>
<rect x="557.80" y="199.695" width="23.90" height="0.551" fill="#f79e9e"/>
<rect x="557.80" y="200.196" width="23.90" height="0.551" fill="#f8a9a9"/>
<rect x="557.80" y="200.697" width="23.90" height="0.551" fill="#f7a0a0"/>
<rect x="557.80" y="201.197" width="23.90" height="0.551" fill="#f69090"/>
<rect x="557.80" y="201.698" width="23.90" height="1.051" fill="#f79a9a"/>
<rect x="557.80" y="202.699" width="23.90" height="0.551" fill="#f69595"/>
<rect x="581.40" y="54.000" width="23.90" height="0.551" fill="#6666f0"/>
<rect x="581.40" y="54.501" width="23.90" height="0.551" fill="#6c6cf0"/>
<rect x="581.40" y="55.001" width="23.90" height="0.551" fill="#6565ef"/>
<rect x="581.40" y="55.502" width="23.90" height="0.551" fill="#6262ef"/>
<rect x="581.40" y="56.003" width="23.90" height="0.551" fill="#6464ef"/>
<rect x="581.40" y="56.503" width="23.90" height="0.551" fill="#6a6af0"/>
<rect x="581.40" y="57.004" width="23.90" height="0.551" fill="#8b8bf3"/>
<rect x="581.40" y="57.505" width="23.90" height="0.551" fill="#8585f3"/>
<rect x="581.40" y="58.005" width="23.90" height="1.051" fill="#b1b1f7"/>
<rect x="581.40" y="59.007" width="23.90" height="0.551" fill="#b5b5f7"/>
<rect x="581.40" y="59.507" width="23.90" height="0.551" fill="#b2b2f7"/>
<rect x="581.40" y="60.008" width="23.90" height="1.051" fill="#babaf8"/>
<rect x="581.40" y="61.009" width="23.90" height="0.551" fill="#b9b9f8"/>
<rect x="581.40" y="61.510" width="23.90" height="0.551" fill="#a5a5f6"/>
<rect x="581.40" y="62.011" width="23.90" height="0.551" fill="#a7a7f6"/>
<rect x="581.40" y="62.511" width="23.90" height="0.551" fill="#a8a8f6"/>
<rect x="581.40" y="63.012" width="23.90" height="1.051" fill="#b0b0f7"/>
<rect x="581.40" y="64.013" width="23.90" height="0.551" fill="#9292f4"/>
<rect x="581.40" y="64.514" width="23.90" height="0.551" fill="#a1a1f5"/>
<rect x="581.40" y="65.015" width="23.90" height="1.051" fill="#9191f4"/>
<rect x="581.40" y="66.016" width="23.90" height="1.051" fill="#8f8ff4"/>
<rect x="581.40" y="67.017" width="23.90" height="0.551" fill="#8686f3"/>
<rect x="581.40" y="67.518" width="23.90" height="1.051" fill="#8e8ef3"/>
<rect x="581.40" y="68.519" width="23.90" height="0.551" fill="#9f9ff5"/>
<rect x="581.40" y="69.020" width="23.90" height="0.551" fill="#a5a5f6"/>
<rect x="581.40" y="69.521" width="23.90" height="1.051" fill="#9090f4"/>
<rect x="581.40" y="70.522" width="23.90" height="1.051" fill="#9999f5"/>
<rect x="581.40" y="71.523" width="23.90" height="0.551" fill="#9f9ff5"/>
<rect x="581.40" y="72.024" width="23.90" height="0.551" fill="#a5a5f6"/>
<rect x="581.40" y="72.525" width="23.90" height="0.551" fill="#a2a2f5"/>
<rect x="581.40" y="73.026" width="23.90" height="0.551" fill="#afaff7"/>
<rect x="581.40" y="73.526" width="23.90" height="0.551" fill="#f58282"/>
<rect x="581.40" y="74.027" width="23.90" height="1.051" fill="#f58a8a"/>
<rect x="581.40" y="75.028" width="23.90" height="1.051" fill="#f58787"/>
<rect x="581.40" y="76.030" width="23.90" height="1.051" fill="#f58686"/>
<rect x="581.40" y="77.031" width="23.90" height="1.051" fill="#f58888"/>
<rect x="581.40" y="78.032" width="23.90" height="0.551" fill="#f47d7d"/>
<rect x="581.40" y="78.533" width="23.90" height="0.551" fill="#f58c8c"/>
<rect x="581.40" y="79.034" width="23.90" height="0.551" fill="#f47979"/>
<rect x="581.40" y="79.534" width="23.90" height="0.551" fill="#f79a9a"/>
<rect x="581.40" y="80.035" width="23.90" height="0.551" fill="#f58282"/>
<rect x="581.40" y="80.536" width="23.90" height="0.551" fill="#f58a8a"/>
<rect x="581.40" y="81.036" width="23.90" height="0.551" fill="#f58888"/>
<rect x="581.40" y="81.537" width="23.90" height="0.551" fill="#f69090"/>
<rect x="581.40" y="82.038" width="23.90" height="0.551" fill="#f68c8c"/>
<rect x="581.40" y="82.538" width="23.90" height="0.551" fill="#f47a7a"/>
<rect x="581.40" y="83.039" width="23.90" height="0.551" fill="#f58a8a"/>
<rect x="581.40" y="83.540" width="23.90" height="1.051" fill="#f47979"/>
<rect x="581.40" y="84.541" width="23.90" height="0.551" fill="#f58080"/>
<rect x="581.40" y="85.042" width="23.90" height="0.551" fill="#f69292"/>
<rect x="581.40" y="85.542" width="23.90" height="1.051" fill="#f58585"/>
<rect x="581.40" y="86.544" width="23.90" height="1.051" fill="#f79a9a"/>
<rect x="581.40" y="87.545" width="23.90" height="0.551" fill="#f69696"/>
<rect x="581.40" y="88.046" width="23.90" height="0.551" fill="#f9b2b2"/>
<rect x="581.40" y="88.546" width="23.90" height="0.551" fill="#f9b9b9"/>
<rect x="581.40" y="89.047" width="23.90" height="0.551" fill="#f9b6b6"/>
<rect x="581.40" y="89.548" width="23.90" height="1.051" fill="#f9b7b7"/>
<rect x="581.40" y="90.549" width="23.90" height="0.551" fill="#f8acac"/>
<rect x="581.40" y="91.050" width="23.90" height="0.551" fill="#f9b2b2"/>
<rect x="581.40" y="91.550" width="23.90" height="0.551" fill="#f58a8a"/>
<rect x="581.40" y="92.051" width="23.90" height="0.551" fill="#f26161"/>
<rect x="581.40" y="92.552" width="23.90" height="0.551" fill="#f37171"/>
<rect x="581.40" y="93.052" width="23.90" height="0.551" fill="#f26464"/>
<rect x="581.40" y="93.553" width="23.90" height="0.551" fill="#f36767"/>
<rect x="581.40" y="94.054" width="23.90" height="1.051" fill="#f25c5c"/>
<rect x="581.40" y="95.055" width="23.90" height="0.551" fill="#f36868"/>
<rect x="581.40" y="95.556" width="23.90" height="1.051" fill="#f25a5a"/>
<rect x="581.40" y="96.557" width="23.90" height="1.051" fill="#f58686"/>
<rect x="581.40" y="97.558" width="23.90" height="0.551" fill="#f69292"/>
<rect x="581.40" y="98.059" width="23.90" height="1.051" fill="#f58686"/>
<rect x="581.40" y="99.060" width="23.90" height="0.551" fill="#f58888"/>
<rect x="581.40" y="99.561" width="23.90" height="0.551" fill="#f69292"/>
<rect x="581.40" y="100.062" width="23.90" height="0.551" fill="#f68e8e"/>
<rect x="581.40" y="100.562" width="23.90" height="1.051" fill="#f58686"/>
<rect x="581.40" y="101.564" width="23.90" height="0.551" fill="#f36f6f"/>
<rect x="581.40" y="102.064" width="23.90" height="1.051" fill="#f36c6c"/>
<rect x="581.40" y="103.066" width="23.90" height="1.051" fill="#f26464"/>
<rect x="581.40" y="104.067" width="23.90" height="1.051" fill="#f36a6a"/>
<rect x="581.40" y="105.068" width="23.90" height="0.551" fill="#f36b6b"/>
<rect x="581.40" y="105.569" width="23.90" height="0.551" fill="#f26060"/>
<rect x="581.40" y="106.070" width="23.90" height="1.051" fill="#f15656"/>
<rect x="581.40" y="107.071" width="23.90" height="1.051" fill="#f47a7a"/>
<rect x="581.40" y="108.072" width="23.90" height="1.051" fill="#f47373"/>
<rect x="581.40" y="109.074" width="23.90" height="0.551" fill="#f36c6c"/>
<rect x="581.40" y="109.574" width="23.90" height="0.551" fill="#f58b8b"/>
<rect x="581.40" y="110.075" width="23.90" height="0.551" fill="#f69696"/>
<rect x="581.40" y="110.576" width="23.90" height="0.551" fill="#f58181"/>
<rect x="581.40" y="111.077" width="23.90" height="0.551" fill="#f68c8c"/>
<rect x="581.40" y="111.577" width="23.90" height="1.051" fill="#f79999"/>
<rect x="581.40" y="112.579" width="23.90" height="0.551" fill="#f79a9a"/>
<rect x="581.40" y="113.079" width="23.90" height="0.551" fill="#f58888"/>
<rect x="581.40" y="113.580" width="23.90" height="0.551" fill="#f47d7d"/>
<rect x="581.40" y="114.081" width="23.90" height="1.051" fill="#f47b7b"/>
<rect x="581.40" y="115.082" width="23.90" height="0.551" fill="#f58888"/>
<rect x="581.40" y="115.583" width="23.90" height="0.551" fill="#f58181"/>
<rect x="581.40" y="116.083" width="23.90" height="0.551" fill="#f58383"/>
<rect x="581.40" y="116.584" width="23.90" height="0.551" fill="#f58585"/>
<rect x="581.40" y="117.085" width="23.90" height="0.551" fill="#f58b8b"/>
<rect x="581.40" y="117.585" width="23.90" height="0.551" fill="#f58888"/>
<rect x="581.40" y="118.086" width="23.90" height="0.551" fill="#f58282"/>
<rect x="581.40" y="118.587" width="23.90" height="1.051" fill="#f58585"/>
<rect x="581.40" y="119.588" width="23.90" height="0.551" fill="#f69595"/>
<rect x="581.40" y="120.089" width="23.90" height="0.551" fill="#f79b9b"/>
<rect x="581.40" y="120.589" width="23.90" height="1.051" fill="#f58888"/>
<rect x="581.40" y="121.591" width="23.90" height="0.551" fill="#f79b9b"/>
<rect x="581.40" y="122.091" width="23.90" height="1.051" fill="#f58585"/>
<rect x="581.40" y="123.093" width="23.90" height="0.551" fill="#f68d8d"/>
<rect x="581.40" y="123.593" width="23.90" height="1.051" fill="#f68f8f"/>
<rect x="581.40" y="124.595" width="23.90" height="0.551" fill="#f69393"/>
<rect x="581.40" y="125.095" width="23.90" height="1.051" fill="#f79a9a"/>
<rect x="581.40" y="126.097" width="23.90" height="1.051" fill="#f69292"/>
<rect x="581.40" y="127.098" width="23.90" height="1.051" fill="#f69696"/>
<rect x="581.40" y="128.099" width="23.90" height="1.051" fill="#f69393"/>
<rect x="581.40" y="129.101" width="23.90" height="0.551" fill="#f69898"/>
<rect x="581.40" y="129.601" width="23.90" height="1.051" fill="#f68e8e"/>
<rect x="581.40" y="130.603" width="23.90" height="0.551" fill="#f69090"/>
<rect x="581.40" y="131.103" width="23.90" height="0.551" fill="#f79f9f"/>
<rect x="581.40" y="131.604" width="23.90" height="1.051" fill="#f69797"/>
<rect x="581.40" y="132.605" width="23.90" height="0.551" fill="#f69292"/>
<rect x="581.40" y="133.106" width="23.90" height="0.551" fill="#f79a9a"/>
<rect x="581.40" y="133.607" width="23.90" height="0.551" fill="#f69797"/>
<rect x="581.40" y="134.107" width="23.90" height="0.551" fill="#f69898"/>
<rect x="581.40" y="134.608" width="23.90" height="0.551" fill="#f69696"/>
<rect x="581.40" y="135.109" width="23.90" height="1.051" fill="#f58484"/>
<rect x="581.40" y="136.110" width="23.90" height="1.552" fill="#f69696"/>
<rect x="581.40" y="137.612" width="23.90" height="0.551" fill="#f69090"/>
<rect x="581.40" y="138.113" width="23.90" height="0.551" fill="#f58a8a"/>
<rect x="581.40" y="138.613" width="23.90" height="1.051" fill="#f68d8d"/>
<rect x="581.40" y="139.615" width="23.90" height="0.551" fill="#f69191"/>
<rect x="581.40" y="140.115" width="23.90" height="1.051" fill="#f8a6a6"/>
<rect x="581.40" y="141.117" width="23.90" height="0.551" fill="#f79d9d"/>
<rect x="581.40" y="141.617" width="23.90" height="1.051" fill="#f58888"/>
<rect x="581.40" y="142.619" width="23.90" height="1.051" fill="#f68c8c"/>
<rect x="581.40" y="143.620" width="23.90" height="0.551" fill="#f68d8d"/>
<rect x="581.40" y="144.121" width="23.90" height="0.551" fill="#f69191"/>
<rect x="581.40" y="144.621" width="23.90" height="1.051" fill="#f69696"/>
<rect x="581.40" y="145.623" width="23.90" height="0.551" fill="#f69595"/>
<rect x="581.40" y="146.123" width="23.90" height="1.051" fill="#f69292"/>
<rect x="581.40" y="147.125" width="23.90" height="0.551" fill="#f79999"/>
<rect x="581.40" y="147.626" width="23.90" height="0.551" fill="#f68d8d"/>
<rect x="581.40" y="148.126" width="23.90" height="1.051" fill="#f58989"/>
<rect x="581.40" y="149.128" width="23.90" height="0.551" fill="#f58080"/>
<rect x="581.40" y="149.628" width="23.90" height="1.051" fill="#f69292"/>
<rect x="581.40" y="150.630" width="23.90" height="0.551" fill="#f58484"/>
<rect x="581.40" y="151.130" width="23.90" height="0.551" fill="#f69494"/>
<rect x="581.40" y="151.631" width="23.90" height="1.051" fill="#f79a9a"/>
<rect x="581.40" y="152.632" width="23.90" height="0.551" fill="#f7a1a1"/>
<rect x="581.40" y="153.133" width="23.90" height="0.551" fill="#f7a0a0"/>
<rect x="581.40" y="153.634" width="23.90" height="0.551" fill="#f7a1a1"/>
<rect x="581.40" y="154.134" width="23.90" height="0.551" fill="#f69191"/>
<rect x="581.40" y="154.635" width="23.90" height="0.551" fill="#f58282"/>
<rect x="581.40" y="155.136" width="23.90" height="0.551" fill="#f68f8f"/>
<rect x="581.40" y="155.636" width="23.90" height="0.551" fill="#f68e8e"/>
<rect x="581.40" y="156.137" width="23.90" height="1.051" fill="#f79c9c"/>
<rect x="581.40" y="157.138" width="23.90" height="1.051" fill="#f58989"/>
<rect x="581.40" y="158.140" width="23.90" height="1.051" fill="#f47373"/>
<rect x="581.40" y="159.141" width="23.90" height="1.051" fill="#f47e7e"/>
<rect x="581.40" y="160.142" width="23.90" height="1.051" fill="#f69393"/>
<rect x="581.40" y="161.144" width="23.90" height="2.053" fill="#f79d9d"/>
<rect x="581.40" y="163.146" width="23.90" height="1.051" fill="#f7a2a2"/>
<rect x="581.40" y="164.148" width="23.90" height="0.551" fill="#f7a0a0"/>
<rect x="581.40" y="164.648" width="23.90" height="1.051" fill="#f8a6a6"/>
<rect x="581.40" y="165.650" width="23.90" height="0.551" fill="#f79f9f"/>
<rect x="581.40" y="166.150" width="23.90" height="0.551" fill="#f7a3a3"/>
<rect x="581.40" y="166.651" width="23.90" height="0.551" fill="#f7a1a1"/>
<rect x="581.40" y="167.152" width="23.90" height="0.551" fill="#f8a5a5"/>
<rect x="581.40" y="167.652" width="23.90" height="0.551" fill="#f8a9a9"/>
<rect x="581.40" y="168.153" width="23.90" height="0.551" fill="#f79d9d"/>
<rect x="581.40" y="168.654" width="23.90" height="0.551" fill="#f69393"/>
<rect x="581.40" y="169.154" width="23.90" height="0.551" fill="#f7a1a1"/>
<rect x="581.40" y="169.655" width="23.90" height="0.551" fill="#f58a8a"/>
<rect x="581.40" y="170.156" width="23.90" height="0.551" fill="#f47878"/>
<rect x="581.40" y="170.656" width="23.90" height="0.551" fill="#f68c8c"/>
<rect x="581.40" y="171.157" width="23.90" height="1.051" fill="#f69090"/>
<rect x="581.40" y="172.158" width="23.90" height="0.551" fill="#f58484"/>
<rect x="581.40" y="172.659" width="23.90" height="0.551" fill="#f58787"/>
<rect x="581.40" y="173.160" width="23.90" height="0.551" fill="#f58585"/>
<rect x="581.40" y="173.660" width="23.90" height="1.051" fill="#f58b8b"/>
<rect x="581.40" y="174.662" width="23.90" height="1.051" fill="#f58080"/>
<rect x="581.40" y="175.663" width="23.90" height="0.551" fill="#f47b7b"/>
<rect x="581.40" y="176.164" width="23.90" height="1.051" fill="#f58080"/>
<rect x="581.40" y="177.165" width="23.90" height="1.051" fill="#f47b7b"/>
<rect x="581.40" y="178.166" width="23.90" height="0.551" fill="#f47e7e"/>
<rect x="581.40" y="178.667" width="23.90" height="0.551" fill="#f69595"/>
<rect x="581.40" y="179.168" width="23.90" height="0.551" fill="#f69393"/>
<rect x="581.40" y="179.668" width="23.90" height="1.051" fill="#f58282"/>
<rect x="581.40" y="180.670" width="23.90" height="1.051" fill="#f47c7c"/>
<rect x="581.40" y="181.671" width="23.90" height="1.051" fill="#f57f7f"/>
<rect x="581.40" y="182.672" width="23.90" height="0.551" fill="#f58787"/>
<rect x="581.40" y="183.173" width="23.90" height="0.551" fill="#f79b9b"/>
<rect x="581.40" y="183.674" width="23.90" height="0.551" fill="#f69292"/>
<rect x="581.40" y="184.174" width="23.90" height="1.051" fill="#f7a2a2"/>
<rect x="581.40" y="185.176" width="23.90" height="0.551" fill="#f8acac"/>
<rect x="581.40" y="185.677" width="23.90" height="0.551" fill="#f8a9a9"/>
<rect x="581.40" y="186.177" width="23.90" height="0.551" fill="#f9b7b7"/>
<rect x="581.40" y="186.678" width="23.90" height="0.551" fill="#f79e9e"/>
<rect x="581.40" y="187.179" width="23.90" height="0.551" fill="#f9b4b4"/>
<rect x="581.40" y="187.679" width="23.90" height="0.551" fill="#f7a3a3"/>
<rect x="581.40" y="188.180" width="23.90" height="0.551" fill="#f68d8d"/>
<rect x="581.40" y="188.681" width="23.90" height="1.051" fill="#f79e9e"/>
<rect x="581.40" y="189.682" width="23.90" height="1.051" fill="#f79d9d"/>
<rect x="581.40" y="190.683" width="23.90" height="0.551" fill="#f79c9c"/>
<rect x="581.40" y="191.184" width="23.90" height="0.551" fill="#f9b4b4"/>
<rect x="581.40" y="191.685" width="23.90" height="1.051" fill="#f8b1b1"/>
<rect x="581.40" y="192.686" width="23.90" height="0.551" fill="#f9b4b4"/>
<rect x="581.40" y="193.187" width="23.90" height="1.051" fill="#f8acac"/>
<rect x="581.40" y="194.188" width="23.90" height="0.551" fill="#f8b1b1"/>
<rect x="581.40" y="194.689" width="23.90" height="1.051" fill="#f8b0b0"/>
<rect x="581.40" y="195.690" width="23.90" height="1.051" fill="#f9b4b4"/>
<rect x="581.40" y="196.691" width="23.90" height="1.552" fill="#f9b9b9"/>
<rect x="581.40" y="198.193" width="23.90" height="1.051" fill="#f8abab"/>
<rect x="581.40" y="199.195" width="23.90" height="0.551" fill="#f9bbbb"/>
<rect x="581.40" y="199.695" width="23.90" height="1.051" fill="#f8b2b2"/>
<rect x="581.40" y="200.697" width="23.90" height="0.551" fill="#f8b1b1"/>
<rect x="581.40" y="201.197" width="23.90" height="0.551" fill="#f9b4b4"/>
<rect x="581.40" y="201.698" width="23.90" height="1.051" fill="#f9b5b5"/>
<rect x="581.40" y="202.699" width="23.90" height="0.551" fill="#f8adad"/>
</g>
<g stroke="#000" stroke-width="0.8" fill="none">
<path d="M407.30,70.62V158.19M407.30,70.62H418.60M407.30,158.19H409.30M418.60,67.97V73.27M418.60,67.97H420.00M418.60,73.27H463.40M420.00,62.91V73.02M420.00,62.91H421.30M420.00,73.02H463.40M421.30,54.12V71.70M421.30,54.12H463.40M421.30,71.70H422.40M422.40,70.80V72.59M422.40,70.80H423.86M422.40,72.59H445.73M423.86,69.89V71.72M423.86,69.89H425.31M423.86,71.72H447.11M425.31,68.71V71.06M425.31,68.71H426.77M425.31,71.06H446.30M426.77,67.60V69.82M426.77,67.60H428.23M426.77,69.82H446.25M428.23,66.34V68.86M428.23,66.34H429.69M428.23,68.86H445.63M429.69,64.91V67.77M429.69,64.91H431.14M429.69,67.77H446.98M431.14,62.83V66.99M431.14,62.83H432.60M431.14,66.99H445.35M432.60,59.28V66.37M432.60,59.28H433.50M432.60,66.37H444.94M433.50,54.37V64.19M433.50,54.37H463.40M433.50,64.19H434.40M434.40,62.75V65.63M434.40,62.75H435.60M434.40,65.63H448.29M435.60,60.91V64.60M435.60,60.91H436.80M435.60,64.60H448.99M436.80,58.47V63.34M436.80,58.47H437.00M436.80,63.34H448.12M437.00,56.21V60.74M437.00,56.21H443.65M437.00,60.74H439.38M443.65,55.38V57.03M443.65,55.38H450.81M443.65,57.03H445.91M450.81,54.84V55.93M450.81,54.84H452.58M450.81,55.93H454.95M452.58,54.62V55.06M452.58,54.62H463.40M452.58,55.06H453.89M453.89,54.87V55.24M453.89,54.87H463.40M453.89,55.24H456.52M456.52,55.12V55.37M456.52,55.12H463.40M456.52,55.37H463.40M454.95,55.74V56.11M454.95,55.74H457.82M454.95,56.11H463.40M457.82,55.62V55.87M457.82,55.62H463.40M457.82,55.87H463.40M445.91,56.67V57.39M445.91,56.67H454.82M445.91,57.39H452.10M454.82,56.49V56.86M454.82,56.49H457.36M454.82,56.86H463.40M457.36,56.36V56.61M457.36,56.36H463.40M457.36,56.61H463.40M452.10,57.11V57.67M452.10,57.11H463.40M452.10,57.67H454.02M454.02,57.48V57.85M454.02,57.48H455.62M454.02,57.85H463.40M455.62,57.36V57.61M455.62,57.36H463.40M455.62,57.61H463.40M439.38,59.29V62.19M439.38,59.29H442.81M439.38,62.19H450.99M442.81,58.48V60.10M442.81,58.48H454.02M442.81,60.10H445.70M454.02,58.23V58.72M454.02,58.23H457.63M454.02,58.72H458.83M457.63,58.10V58.35M457.63,58.10H463.40M457.63,58.35H463.40M458.83,58.60V58.85M458.83,58.60H463.40M458.83,58.85H463.40M445.70,59.63V60.58M445.70,59.63H452.65M445.70,60.58H448.98M452.65,59.41V59.84M452.65,59.41H454.42M452.65,59.84H463.40M454.42,59.22V59.59M454.42,59.22H457.73M454.42,59.59H463.40M457.73,59.10V59.35M457.73,59.10H463.40M457.73,59.35H463.40M448.98,60.22V60.95M448.98,60.22H456.68M448.98,60.95H450.94M456.68,60.09V60.34M456.68,60.09H463.40M456.68,60.34H463.40M450.94,60.59V61.30M450.94,60.59H463.40M450.94,61.30H452.83M452.83,61.02V61.58M452.83,61.02H453.91M452.83,61.58H463.40M453.91,60.84V61.21M453.91,60.84H463.40M453.91,61.21H455.94M455.94,61.09V61.34M455.94,61.09H463.40M455.94,61.34H463.40M450.99,61.83V62.55M450.99,61.83H463.40M450.99,62.55H452.70M452.70,62.27V62.83M452.70,62.27H454.87M452.70,62.83H463.40M454.87,62.08V62.45M454.87,62.08H463.40M454.87,62.45H456.66M456.66,62.33V62.58M456.66,62.33H463.40M456.66,62.58H463.40M448.12,63.08V63.60M448.12,63.08H463.40M448.12,63.60H450.39M450.39,63.33V63.88M450.39,63.33H463.40M450.39,63.88H451.72M451.72,63.70V64.07M451.72,63.70H455.46M451.72,64.07H463.40M455.46,63.57V63.82M455.46,63.57H463.40M455.46,63.82H463.40M448.99,64.32V64.88M448.99,64.32H463.40M448.99,64.88H451.39M451.39,64.69V65.07M451.39,64.69H455.22M451.39,65.07H463.40M455.22,64.57V64.82M455.22,64.57H463.40M455.22,64.82H463.40M448.29,65.44V65.81M448.29,65.44H451.32M448.29,65.81H463.40M451.32,65.31V65.56M451.32,65.31H463.40M451.32,65.56H463.40M444.94,66.18V66.56M444.94,66.18H447.69M444.94,66.56H463.40M447.69,66.06V66.31M447.69,66.06H463.40M447.69,66.31H463.40M445.35,66.81V67.18M445.35,66.81H463.40M445.35,67.18H450.45M450.45,67.06V67.30M450.45,67.06H463.40M450.45,67.30H463.40M446.98,67.55V67.99M446.98,67.55H463.40M446.98,67.99H448.43M448.43,67.80V68.17M448.43,67.80H463.40M448.43,68.17H452.83M452.83,68.05V68.30M452.83,68.05H463.40M452.83,68.30H463.40M445.63,68.67V69.04M445.63,68.67H450.62M445.63,69.04H463.40M450.62,68.55V68.80M450.62,68.55H463.40M450.62,68.80H463.40M446.25,69.48V70.16M446.25,69.48H449.46M446.25,70.16H454.63M449.46,69.29V69.67M449.46,69.29H463.40M449.46,69.67H454.13M454.13,69.54V69.79M454.13,69.54H463.40M454.13,69.79H463.40M454.63,70.04V70.29M454.63,70.04H463.40M454.63,70.29H463.40M446.30,70.85V71.28M446.30,70.85H450.11M446.30,71.28H463.40M450.11,70.66V71.03M450.11,70.66H452.48M450.11,71.03H463.40M452.48,70.54V70.78M452.48,70.54H463.40M452.48,70.78H463.40M447.11,71.53V71.90M447.11,71.53H463.40M447.11,71.90H451.45M451.45,71.78V72.03M451.45,71.78H463.40M451.45,72.03H463.40M445.73,72.40V72.77M445.73,72.40H450.46M445.73,72.77H463.40M450.46,72.28V72.53M450.46,72.28H463.40M450.46,72.53H463.40M409.30,115.55V200.83M409.30,115.55H410.30M409.30,200.83H446.91M410.30,74.87V156.23M410.30,74.87H446.51M410.30,156.23H412.20M446.51,73.85V75.88M446.51,73.85H447.39M446.51,75.88H456.61M447.39,73.52V74.18M447.39,73.52H463.40M447.39,74.18H448.41M448.41,73.77V74.59M448.41,73.77H463.40M448.41,74.59H449.32M449.32,74.14V75.04M449.32,74.14H455.96M449.32,75.04H450.47M455.96,74.02V74.27M455.96,74.02H463.40M455.96,74.27H463.40M450.47,74.70V75.39M450.47,74.70H453.31M450.47,75.39H457.21M453.31,74.52V74.89M453.31,74.52H463.40M453.31,74.89H455.44M455.44,74.76V75.01M455.44,74.76H463.40M455.44,75.01H463.40M457.21,75.26V75.51M457.21,75.26H463.40M457.21,75.51H463.40M456.61,75.76V76.01M456.61,75.76H463.40M456.61,76.01H463.40M412.20,115.53V196.93M412.20,115.53H413.30M412.20,196.93H435.00M413.30,77.73V153.32M413.30,77.73H449.78M413.30,153.32H414.70M449.78,77.09V78.37M449.78,77.09H450.77M449.78,78.37H452.63M450.77,76.63V77.56M450.77,76.63H453.47M450.77,77.56H451.80M453.47,76.38V76.88M453.47,76.38H457.75M453.47,76.88H456.58M457.75,76.26V76.50M457.75,76.26H463.40M457.75,76.50H463.40M456.58,76.75V77.00M456.58,76.75H463.40M456.58,77.00H463.40M451.80,77.37V77.75M451.80,77.37H455.07M451.80,77.75H463.40M455.07,77.25V77.50M455.07,77.25H463.40M455.07,77.50H463.40M452.63,78.12V78.62M452.63,78.12H455.08M452.63,78.62H458.10M455.08,78.00V78.25M455.08,78.00H463.40M455.08,78.25H463.40M458.10,78.49V78.74M458.10,78.49H463.40M458.10,78.74H463.40M414.70,115.37V191.28M414.70,115.37H416.20M414.70,191.28H435.00M416.20,79.67V151.06M416.20,79.67H449.48M416.20,151.06H417.30M449.48,79.30V80.05M449.48,79.30H451.28M449.48,80.05H455.39M451.28,79.12V79.49M451.28,79.12H453.88M451.28,79.49H463.40M453.88,78.99V79.24M453.88,78.99H463.40M453.88,79.24H463.40M455.39,79.86V80.23M455.39,79.86H457.69M455.39,80.23H463.40M457.69,79.74V79.99M457.69,79.74H463.40M457.69,79.99H463.40M417.30,115.45V186.66M417.30,115.45H419.20M417.30,186.66H448.76M419.20,81.67V149.23M419.20,81.67H448.90M419.20,149.23H420.30M448.90,81.37V81.97M448.90,81.37H450.10M448.90,81.97H463.40M450.10,81.01V81.73M450.10,81.01H451.32M450.10,81.73H463.40M451.32,80.67V81.35M451.32,80.67H453.59M451.32,81.35H457.21M453.59,80.48V80.86M453.59,80.48H463.40M453.59,80.86H455.79M455.79,80.73V80.98M455.79,80.73H463.40M455.79,80.98H463.40M457.21,81.23V81.48M457.21,81.23H463.40M457.21,81.48H463.40M420.30,115.99V182.48M420.30,115.99H421.60M420.30,182.48H435.00M421.60,83.16V148.82M421.60,83.16H450.32M421.60,148.82H422.60M450.32,82.69V83.62M450.32,82.69H451.80M450.32,83.62H451.67M451.80,82.41V82.97M451.80,82.41H452.99M451.80,82.97H463.40M452.99,82.22V82.60M452.99,82.22H463.40M452.99,82.60H455.37M455.37,82.47V82.72M455.37,82.47H463.40M455.37,82.72H463.40M451.67,83.34V83.90M451.67,83.34H456.48M451.67,83.90H452.51M456.48,83.22V83.47M456.48,83.22H463.40M456.48,83.47H463.40M452.51,83.72V84.09M452.51,83.72H463.40M452.51,84.09H456.06M456.06,83.96V84.21M456.06,83.96H463.40M456.06,84.21H463.40M422.60,119.16V178.48M422.60,119.16H424.90M422.60,178.48H447.24M424.90,86.21V152.11M424.90,86.21H446.02M424.90,152.11H426.40M446.02,85.35V87.07M446.02,85.35H447.38M446.02,87.07H454.57M447.38,84.77V85.92M447.38,84.77H452.09M447.38,85.92H449.15M452.09,84.59V84.96M452.09,84.59H454.90M452.09,84.96H463.40M454.90,84.46V84.71M454.90,84.46H463.40M454.90,84.71H463.40M449.15,85.52V86.33M449.15,85.52H451.36M449.15,86.33H452.73M451.36,85.33V85.70M451.36,85.33H454.28M451.36,85.70H463.40M454.28,85.21V85.46M454.28,85.21H463.40M454.28,85.46H463.40M452.73,86.08V86.58M452.73,86.08H455.34M452.73,86.58H454.97M455.34,85.95V86.20M455.34,85.95H463.40M455.34,86.20H463.40M454.97,86.45V86.70M454.97,86.45H463.40M454.97,86.70H463.40M454.57,86.95V87.20M454.57,86.95H463.40M454.57,87.20H463.40M426.40,133.45V170.77M426.40,133.45H427.81M426.40,170.77H438.19M427.81,109.25V157.65M427.81,109.25H428.84M427.81,157.65H448.85M428.84,88.01V130.50M428.84,88.01H450.89M428.84,130.50H429.58M450.89,87.63V88.38M450.89,87.63H452.52M450.89,88.38H452.76M452.52,87.45V87.82M452.52,87.45H463.40M452.52,87.82H455.97M455.97,87.69V87.94M455.97,87.69H463.40M455.97,87.94H463.40M452.76,88.19V88.56M452.76,88.19H463.40M452.76,88.56H455.62M455.62,88.44V88.69M455.62,88.44H463.40M455.62,88.69H463.40M429.58,105.13V155.87M429.58,105.13H430.85M429.58,155.87H450.14M430.85,94.87V115.40M430.85,94.87H438.92M430.85,115.40H432.25M438.92,90.11V99.63M438.92,90.11H441.81M438.92,99.63H440.41M441.81,89.12V91.09M441.81,89.12H452.92M441.81,91.09H442.86M452.92,88.94V89.31M452.92,88.94H463.40M452.92,89.31H454.51M454.51,89.19V89.44M454.51,89.19H463.40M454.51,89.44H463.40M442.86,90.21V91.96M442.86,90.21H450.78M442.86,91.96H443.98M450.78,89.99V90.43M450.78,89.99H452.10M450.78,90.43H463.40M452.10,89.81V90.18M452.10,89.81H453.70M452.10,90.18H463.40M453.70,89.68V89.93M453.70,89.68H463.40M453.70,89.93H463.40M443.98,91.26V92.67M443.98,91.26H445.74M443.98,92.67H463.40M445.74,90.68V91.84M445.74,90.68H463.40M445.74,91.84H446.42M446.42,91.25V92.42M446.42,91.25H448.37M446.42,92.42H463.40M448.37,90.93V91.58M448.37,90.93H463.40M448.37,91.58H450.56M450.56,91.30V91.86M450.56,91.30H456.29M450.56,91.86H452.85M456.29,91.18V91.42M456.29,91.18H463.40M456.29,91.42H463.40M452.85,91.67V92.05M452.85,91.67H463.40M452.85,92.05H454.72M454.72,91.92V92.17M454.72,91.92H463.40M454.72,92.17H463.40M440.41,96.37V102.88M440.41,96.37H441.64M440.41,102.88H441.86M441.64,94.41V98.34M441.64,94.41H444.45M441.64,98.34H446.08M444.45,93.54V95.28M444.45,93.54H451.19M444.45,95.28H445.64M451.19,93.23V93.85M451.19,93.23H453.27M451.19,93.85H454.37M453.27,93.04V93.41M453.27,93.04H457.08M453.27,93.41H463.40M457.08,92.92V93.16M457.08,92.92H463.40M457.08,93.16H463.40M454.37,93.66V94.04M454.37,93.66H463.40M454.37,94.04H456.12M456.12,93.91V94.16M456.12,93.91H463.40M456.12,94.16H463.40M445.64,94.53V96.03M445.64,94.53H455.01M445.64,96.03H446.91M455.01,94.41V94.66M455.01,94.41H463.40M455.01,94.66H463.40M446.91,95.66V96.40M446.91,95.66H448.05M446.91,96.40H463.40M448.05,95.17V96.15M448.05,95.17H449.74M448.05,96.15H463.40M449.74,94.91V95.43M449.74,94.91H463.40M449.74,95.43H451.69M451.69,95.15V95.71M451.69,95.15H463.40M451.69,95.71H453.44M453.44,95.53V95.90M453.44,95.53H455.04M453.44,95.90H463.40M455.04,95.40V95.65M455.04,95.40H463.40M455.04,95.65H463.40M446.08,97.68V98.99M446.08,97.68H447.05M446.08,98.99H449.00M447.05,97.22V98.14M447.05,97.22H449.19M447.05,98.14H463.40M449.19,96.77V97.67M449.19,96.77H455.23M449.19,97.67H450.80M455.23,96.65V96.89M455.23,96.65H463.40M455.23,96.89H463.40M450.80,97.45V97.89M450.80,97.45H452.46M450.80,97.89H463.40M452.46,97.27V97.64M452.46,97.27H455.08M452.46,97.64H463.40M455.08,97.14V97.39M455.08,97.14H463.40M455.08,97.39H463.40M449.00,98.60V99.38M449.00,98.60H450.20M449.00,99.38H463.40M450.20,98.39V98.82M450.20,98.39H463.40M450.20,98.82H453.32M453.32,98.64V99.01M453.32,98.64H463.40M453.32,99.01H457.94M457.94,98.88V99.13M457.94,98.88H463.40M457.94,99.13H463.40M441.86,100.82V104.95M441.86,100.82H446.07M441.86,104.95H449.06M446.07,99.75V101.88M446.07,99.75H457.31M446.07,101.88H447.80M457.31,99.63V99.88M457.31,99.63H463.40M457.31,99.88H463.40M447.80,101.17V102.58M447.80,101.17H449.84M447.80,102.58H451.97M449.84,100.66V101.68M449.84,100.66H451.49M449.84,101.68H451.90M451.49,100.31V101.00M451.49,100.31H453.40M451.49,101.00H454.92M453.40,100.13V100.50M453.40,100.13H463.40M453.40,100.50H455.09M455.09,100.38V100.62M455.09,100.38H463.40M455.09,100.62H463.40M454.92,100.87V101.12M454.92,100.87H463.40M454.92,101.12H463.40M451.90,101.50V101.87M451.90,101.50H455.15M451.90,101.87H463.40M455.15,101.37V101.62M455.15,101.37H463.40M455.15,101.62H463.40M451.97,102.30V102.86M451.97,102.30H454.09M451.97,102.86H463.40M454.09,102.12V102.49M454.09,102.12H463.40M454.09,102.49H455.92M455.92,102.37V102.61M455.92,102.37H463.40M455.92,102.61H463.40M449.06,104.04V105.85M449.06,104.04H450.54M449.06,105.85H451.09M450.54,103.42V104.67M450.54,103.42H452.05M450.54,104.67H452.48M452.05,103.11V103.73M452.05,103.11H463.40M452.05,103.73H454.94M454.94,103.48V103.98M454.94,103.48H456.83M454.94,103.98H457.64M456.83,103.36V103.61M456.83,103.36H463.40M456.83,103.61H463.40M457.64,103.86V104.11M457.64,103.86H463.40M457.64,104.11H463.40M452.48,104.48V104.85M452.48,104.48H454.76M452.48,104.85H463.40M454.76,104.35V104.60M454.76,104.35H463.40M454.76,104.60H463.40M451.09,105.47V106.22M451.09,105.47H453.81M451.09,106.22H457.30M453.81,105.23V105.72M453.81,105.23H455.13M453.81,105.72H455.38M455.13,105.10V105.35M455.13,105.10H463.40M455.13,105.35H463.40M455.38,105.60V105.85M455.38,105.60H463.40M455.38,105.85H463.40M457.30,106.10V106.34M457.30,106.10H463.40M457.30,106.34H463.40M432.25,107.51V123.28M432.25,107.51H448.75M432.25,123.28H433.74M448.75,107.18V107.84M448.75,107.18H449.97M448.75,107.84H463.40M449.97,106.90V107.46M449.97,106.90H451.45M449.97,107.46H455.16M451.45,106.72V107.09M451.45,106.72H454.82M451.45,107.09H463.40M454.82,106.59V106.84M454.82,106.59H463.40M454.82,106.84H463.40M455.16,107.34V107.59M455.16,107.34H463.40M455.16,107.59H463.40M433.74,110.66V135.91M433.74,110.66H445.19M433.74,135.91H434.58M445.19,109.87V111.44M445.19,109.87H446.46M445.19,111.44H453.28M446.46,109.39V110.35M446.46,109.39H448.20M446.46,110.35H452.50M448.20,108.96V109.83M448.20,108.96H449.42M448.20,109.83H463.40M449.42,108.47V109.45M449.42,108.47H450.86M449.42,109.45H456.91M450.86,108.08V108.86M450.86,108.08H463.40M450.86,108.86H452.40M452.40,108.64V109.08M452.40,108.64H453.42M452.40,109.08H463.40M453.42,108.46V108.83M453.42,108.46H455.10M453.42,108.83H463.40M455.10,108.33V108.58M455.10,108.33H463.40M455.10,108.58H463.40M456.91,109.33V109.58M456.91,109.33H463.40M456.91,109.58H463.40M452.50,110.07V110.63M452.50,110.07H463.40M452.50,110.63H453.53M453.53,110.45V110.82M453.53,110.45H457.79M453.53,110.82H463.40M457.79,110.32V110.57M457.79,110.32H463.40M457.79,110.57H463.40M453.28,111.19V111.69M453.28,111.19H455.55M453.28,111.69H458.36M455.55,111.07V111.32M455.55,111.07H463.40M455.55,111.32H463.40M458.36,111.57V111.81M458.36,111.57H463.40M458.36,111.81H463.40M434.58,118.91V152.91M434.58,118.91H435.95M434.58,152.91H450.12M435.95,112.51V125.31M435.95,112.51H450.06M435.95,125.31H437.33M450.06,112.19V112.84M450.06,112.19H454.95M450.06,112.84H451.05M454.95,112.06V112.31M454.95,112.06H463.40M454.95,112.31H463.40M451.05,112.56V113.12M451.05,112.56H463.40M451.05,113.12H453.77M453.77,112.93V113.31M453.77,112.93H456.94M453.77,113.31H463.40M456.94,112.81V113.06M456.94,112.81H463.40M456.94,113.06H463.40M437.33,118.38V132.23M437.33,118.38H441.04M437.33,132.23H438.01M441.04,115.27V121.50M441.04,115.27H447.79M441.04,121.50H442.09M447.79,114.67V115.86M447.79,114.67H449.66M447.79,115.86H449.77M449.66,114.30V115.05M449.66,114.30H451.20M449.66,115.05H463.40M451.20,113.93V114.67M451.20,113.93H452.86M451.20,114.67H457.53M452.86,113.68V114.18M452.86,113.68H456.54M452.86,114.18H456.65M456.54,113.56V113.80M456.54,113.56H463.40M456.54,113.80H463.40M456.65,114.05V114.30M456.65,114.05H463.40M456.65,114.30H463.40M457.53,114.55V114.80M457.53,114.55H463.40M457.53,114.80H463.40M449.77,115.42V116.29M449.77,115.42H454.65M449.77,116.29H451.18M454.65,115.30V115.54M454.65,115.30H463.40M454.65,115.54H463.40M451.18,115.92V116.66M451.18,115.92H455.13M451.18,116.66H452.52M455.13,115.79V116.04M455.13,115.79H463.40M455.13,116.04H463.40M452.52,116.42V116.91M452.52,116.42H454.75M452.52,116.91H456.32M454.75,116.29V116.54M454.75,116.29H463.40M454.75,116.54H463.40M456.32,116.79V117.04M456.32,116.79H463.40M456.32,117.04H463.40M442.09,119.75V123.25M442.09,119.75H445.06M442.09,123.25H447.26M445.06,118.85V120.64M445.06,118.85H446.23M445.06,120.64H456.13M446.23,118.17V119.52M446.23,118.17H448.25M446.23,119.52H450.39M448.25,117.69V118.65M448.25,117.69H450.29M448.25,118.65H457.66M450.29,117.41V117.97M450.29,117.41H456.42M450.29,117.97H451.30M456.42,117.29V117.53M456.42,117.29H463.40M456.42,117.53H463.40M451.30,117.78V118.16M451.30,117.78H463.40M451.30,118.16H454.79M454.79,118.03V118.28M454.79,118.03H463.40M454.79,118.28H463.40M457.66,118.53V118.78M457.66,118.53H463.40M457.66,118.78H463.40M450.39,119.15V119.90M450.39,119.15H456.10M450.39,119.90H453.48M456.10,119.03V119.27M456.10,119.03H463.40M456.10,119.27H463.40M453.48,119.65V120.15M453.48,119.65H455.34M453.48,120.15H454.92M455.34,119.52V119.77M455.34,119.52H463.40M455.34,119.77H463.40M454.92,120.02V120.27M454.92,120.02H463.40M454.92,120.27H463.40M456.13,120.52V120.77M456.13,120.52H463.40M456.13,120.77H463.40M447.26,122.24V124.25M447.26,122.24H447.98M447.26,124.25H463.40M447.98,121.39V123.10M447.98,121.39H451.66M447.98,123.10H450.19M451.66,121.14V121.64M451.66,121.14H456.82M451.66,121.64H455.46M456.82,121.02V121.26M456.82,121.02H463.40M456.82,121.26H463.40M455.46,121.51V121.76M455.46,121.51H463.40M455.46,121.76H463.40M450.19,122.48V123.72M450.19,122.48H451.27M450.19,123.72H451.37M451.27,122.13V122.82M451.27,122.13H454.45M451.27,122.82H452.57M454.45,122.01V122.26M454.45,122.01H463.40M454.45,122.26H463.40M452.57,122.63V123.00M452.57,122.63H456.95M452.57,123.00H463.40M456.95,122.51V122.76M456.95,122.51H463.40M456.95,122.76H463.40M451.37,123.44V124.00M451.37,123.44H452.67M451.37,124.00H463.40M452.67,123.25V123.63M452.67,123.25H463.40M452.67,123.63H454.80M454.80,123.50V123.75M454.80,123.50H463.40M454.80,123.75H463.40M438.01,125.00V139.46M438.01,125.00H447.63M438.01,139.46H439.48M447.63,124.62V125.38M447.63,124.62H454.60M447.63,125.38H449.28M454.60,124.50V124.75M454.60,124.50H463.40M454.60,124.75H463.40M449.28,124.99V125.77M449.28,124.99H463.40M449.28,125.77H451.45M451.45,125.55V125.99M451.45,125.55H454.47M451.45,125.99H463.40M454.47,125.37V125.74M454.47,125.37H456.51M454.47,125.74H463.40M456.51,125.24V125.49M456.51,125.24H463.40M456.51,125.49H463.40M439.48,133.69V145.23M439.48,133.69H440.70M439.48,145.23H441.02M440.70,129.86V137.52M440.70,129.86H441.57M440.70,137.52H442.02M441.57,128.48V131.24M441.57,128.48H446.71M441.57,131.24H449.25M446.71,127.62V129.35M446.71,127.62H447.62M446.71,129.35H454.35M447.62,126.66V128.58M447.62,126.66H448.81M447.62,128.58H450.01M448.81,126.24V127.08M448.81,126.24H463.40M448.81,127.08H451.12M451.12,126.80V127.36M451.12,126.80H453.73M451.12,127.36H457.42M453.73,126.61V126.98M453.73,126.61H455.44M453.73,126.98H463.40M455.44,126.49V126.73M455.44,126.49H463.40M455.44,126.73H463.40M457.42,127.23V127.48M457.42,127.23H463.40M457.42,127.48H463.40M450.01,128.20V128.97M450.01,128.20H451.74M450.01,128.97H463.40M451.74,127.85V128.54M451.74,127.85H454.65M451.74,128.54H453.56M454.65,127.73V127.98M454.65,127.73H463.40M454.65,127.98H463.40M453.56,128.35V128.72M453.56,128.35H456.36M453.56,128.72H463.40M456.36,128.23V128.48M456.36,128.23H463.40M456.36,128.48H463.40M454.35,129.22V129.47M454.35,129.22H463.40M454.35,129.47H463.40M449.25,130.22V132.26M449.25,130.22H450.18M449.25,132.26H450.17M450.18,129.84V130.59M450.18,129.84H455.27M450.18,130.59H451.39M455.27,129.72V129.97M455.27,129.72H463.40M455.27,129.97H463.40M451.39,130.34V130.84M451.39,130.34H456.60M451.39,130.84H454.49M456.60,130.22V130.46M456.60,130.22H463.40M456.60,130.46H463.40M454.49,130.71V130.96M454.49,130.71H463.40M454.49,130.96H463.40M450.17,131.43V133.09M450.17,131.43H451.44M450.17,133.09H451.06M451.44,131.21V131.65M451.44,131.21H463.40M451.44,131.65H453.13M453.13,131.46V131.83M453.13,131.46H463.40M453.13,131.83H456.03M456.03,131.71V131.96M456.03,131.71H463.40M456.03,131.96H463.40M451.06,132.73V133.45M451.06,132.73H452.05M451.06,133.45H463.40M452.05,132.39V133.08M452.05,132.39H453.15M452.05,133.08H455.50M453.15,132.21V132.58M453.15,132.21H463.40M453.15,132.58H454.96M454.96,132.45V132.70M454.96,132.45H463.40M454.96,132.70H463.40M455.50,132.95V133.20M455.50,132.95H463.40M455.50,133.20H463.40M442.02,135.51V139.52M442.02,135.51H447.20M442.02,139.52H449.12M447.20,134.45V136.57M447.20,134.45H448.62M447.20,136.57H450.11M448.62,133.70V135.21M448.62,133.70H463.40M448.62,135.21H450.48M450.48,134.60V135.81M450.48,134.60H451.75M450.48,135.81H456.44M451.75,134.13V135.07M451.75,134.13H453.64M451.75,135.07H453.40M453.64,133.95V134.32M453.64,133.95H463.40M453.64,134.32H456.18M456.18,134.19V134.44M456.18,134.19H463.40M456.18,134.44H463.40M453.40,134.82V135.31M453.40,134.82H458.04M453.40,135.31H457.40M458.04,134.69V134.94M458.04,134.69H463.40M458.04,134.94H463.40M457.40,135.19V135.44M457.40,135.19H463.40M457.40,135.44H463.40M456.44,135.69V135.94M456.44,135.69H463.40M456.44,135.94H463.40M450.11,136.18V136.96M450.11,136.18H463.40M450.11,136.96H451.94M451.94,136.74V137.18M451.94,136.74H453.77M451.94,137.18H463.40M453.77,136.56V136.93M453.77,136.56H456.58M453.77,136.93H463.40M456.58,136.43V136.68M456.58,136.43H463.40M456.58,136.68H463.40M449.12,138.82V140.23M449.12,138.82H449.80M449.12,140.23H453.60M449.80,138.25V139.39M449.80,138.25H451.51M449.80,139.39H451.95M451.51,137.96V138.55M451.51,137.96H454.04M451.51,138.55H456.82M454.04,137.74V138.17M454.04,137.74H455.26M454.04,138.17H463.40M455.26,137.55V137.93M455.26,137.55H458.18M455.26,137.93H463.40M458.18,137.43V137.68M458.18,137.43H463.40M458.18,137.68H463.40M456.82,138.42V138.67M456.82,138.42H463.40M456.82,138.67H463.40M451.95,139.11V139.67M451.95,139.11H454.66M451.95,139.67H463.40M454.66,138.92V139.29M454.66,138.92H463.40M454.66,139.29H456.15M456.15,139.17V139.42M456.15,139.17H463.40M456.15,139.42H463.40M453.60,140.04V140.41M453.60,140.04H457.09M453.60,140.41H463.40M457.09,139.91V140.16M457.09,139.91H463.40M457.09,140.16H463.40M441.02,142.58V147.88M441.02,142.58H442.09M441.02,147.88H441.99M442.09,141.65V143.51M442.09,141.65H448.07M442.09,143.51H444.22M448.07,141.02V142.28M448.07,141.02H449.24M448.07,142.28H457.79M449.24,140.66V141.38M449.24,140.66H463.40M449.24,141.38H451.18M451.18,141.03V141.72M451.18,141.03H457.75M451.18,141.72H453.93M457.75,140.91V141.16M457.75,140.91H463.40M457.75,141.16H463.40M453.93,141.53V141.90M453.93,141.53H457.30M453.93,141.90H463.40M457.30,141.41V141.65M457.30,141.41H463.40M457.30,141.65H463.40M457.79,142.15V142.40M457.79,142.15H463.40M457.79,142.40H463.40M444.22,142.77V144.25M444.22,142.77H456.22M444.22,144.25H445.11M456.22,142.65V142.90M456.22,142.65H463.40M456.22,142.90H463.40M445.11,143.43V145.07M445.11,143.43H446.39M445.11,145.07H453.40M446.39,143.15V143.72M446.39,143.15H463.40M446.39,143.72H448.14M448.14,143.40V144.05M448.14,143.40H463.40M448.14,144.05H450.59M450.59,143.77V144.33M450.59,143.77H456.59M450.59,144.33H452.83M456.59,143.64V143.89M456.59,143.64H463.40M456.59,143.89H463.40M452.83,144.14V144.51M452.83,144.14H463.40M452.83,144.51H454.17M454.17,144.39V144.64M454.17,144.39H463.40M454.17,144.64H463.40M453.40,144.89V145.26M453.40,144.89H463.40M453.40,145.26H455.09M455.09,145.14V145.38M455.09,145.14H463.40M455.09,145.38H463.40M441.99,146.68V149.07M441.99,146.68H446.74M441.99,149.07H444.36M446.74,145.94V147.42M446.74,145.94H451.80M446.74,147.42H448.22M451.80,145.76V146.13M451.80,145.76H454.75M451.80,146.13H463.40M454.75,145.63V145.88M454.75,145.63H463.40M454.75,145.88H463.40M448.22,146.73V148.12M448.22,146.73H448.98M448.22,148.12H463.40M448.98,146.38V147.08M448.98,146.38H463.40M448.98,147.08H451.00M451.00,146.75V147.41M451.00,146.75H454.96M451.00,147.41H452.10M454.96,146.63V146.88M454.96,146.63H463.40M454.96,146.88H463.40M452.10,147.13V147.69M452.10,147.13H463.40M452.10,147.69H453.49M453.49,147.50V147.87M453.49,147.50H456.44M453.49,147.87H463.40M456.44,147.37V147.62M456.44,147.37H463.40M456.44,147.62H463.40M444.36,148.37V149.77M444.36,148.37H463.40M444.36,149.77H445.89M445.89,148.74V150.81M445.89,148.74H455.45M445.89,150.81H446.96M455.45,148.62V148.87M455.45,148.62H463.40M455.45,148.87H463.40M446.96,150.14V151.48M446.96,150.14H447.64M446.96,151.48H451.34M447.64,149.54V150.73M447.64,149.54H448.35M447.64,150.73H456.69M448.35,149.12V149.97M448.35,149.12H463.40M448.35,149.97H449.19M449.19,149.58V150.36M449.19,149.58H451.33M449.19,150.36H463.40M451.33,149.36V149.80M451.33,149.36H463.40M451.33,149.80H453.86M453.86,149.61V149.99M453.86,149.61H463.40M453.86,149.99H456.44M456.44,149.86V150.11M456.44,149.86H463.40M456.44,150.11H463.40M456.69,150.61V150.86M456.69,150.61H463.40M456.69,150.86H463.40M451.34,151.23V151.73M451.34,151.23H455.25M451.34,151.73H454.63M455.25,151.10V151.35M455.25,151.10H463.40M455.25,151.35H463.40M454.63,151.60V151.85M454.63,151.60H463.40M454.63,151.85H463.40M450.12,152.22V153.59M450.12,152.22H456.32M450.12,153.59H451.26M456.32,152.10V152.35M456.32,152.10H463.40M456.32,152.35H463.40M451.26,153.09V154.09M451.26,153.09H453.13M451.26,154.09H463.40M453.13,152.72V153.47M453.13,152.72H455.43M453.13,153.47H454.57M455.43,152.60V152.84M455.43,152.60H463.40M455.43,152.84H463.40M454.57,153.22V153.72M454.57,153.22H457.71M454.57,153.72H456.27M457.71,153.09V153.34M457.71,153.09H463.40M457.71,153.34H463.40M456.27,153.59V153.84M456.27,153.59H463.40M456.27,153.84H463.40M450.14,155.29V156.45M450.14,155.29H450.94M450.14,156.45H456.03M450.94,154.87V155.70M450.94,154.87H452.08M450.94,155.70H452.79M452.08,154.65V155.08M452.08,154.65H453.71M452.08,155.08H463.40M453.71,154.46V154.83M453.71,154.46H457.24M453.71,154.83H463.40M457.24,154.34V154.59M457.24,154.34H463.40M457.24,154.59H463.40M452.79,155.46V155.95M452.79,155.46H457.79M452.79,155.95H454.37M457.79,155.33V155.58M457.79,155.33H463.40M457.79,155.58H463.40M454.37,155.83V156.08M454.37,155.83H463.40M454.37,156.08H463.40M456.03,156.33V156.57M456.03,156.33H463.40M456.03,156.57H463.40M448.85,157.13V158.16M448.85,157.13H455.64M448.85,158.16H449.64M455.64,156.95V157.32M455.64,156.95H457.62M455.64,157.32H463.40M457.62,156.82V157.07M457.62,156.82H463.40M457.62,157.07H463.40M449.64,157.88V158.44M449.64,157.88H451.95M449.64,158.44H454.47M451.95,157.69V158.07M451.95,157.69H455.73M451.95,158.07H463.40M455.73,157.57V157.82M455.73,157.57H463.40M455.73,157.82H463.40M454.47,158.32V158.56M454.47,158.32H463.40M454.47,158.56H463.40M438.19,166.61V174.94M438.19,166.61H439.13M438.19,174.94H441.96M439.13,162.76V170.46M439.13,162.76H440.07M439.13,170.46H448.29M440.07,160.39V165.12M440.07,160.39H447.56M440.07,165.12H440.83M447.56,159.70V161.08M447.56,159.70H449.27M447.56,161.08H449.42M449.27,159.28V160.12M449.27,159.28H451.39M449.27,160.12H452.03M451.39,159.00V159.56M451.39,159.00H453.18M451.39,159.56H463.40M453.18,158.81V159.19M453.18,158.81H463.40M453.18,159.19H457.86M457.86,159.06V159.31M457.86,159.06H463.40M457.86,159.31H463.40M452.03,159.93V160.31M452.03,159.93H455.53M452.03,160.31H463.40M455.53,159.81V160.06M455.53,159.81H463.40M455.53,160.06H463.40M449.42,160.86V161.30M449.42,160.86H451.99M449.42,161.30H463.40M451.99,160.68V161.05M451.99,160.68H455.73M451.99,161.05H463.40M455.73,160.55V160.80M455.73,160.55H463.40M455.73,160.80H463.40M440.83,163.76V166.48M440.83,163.76H445.92M440.83,166.48H442.34M445.92,163.23V164.28M445.92,163.23H447.23M445.92,164.28H463.40M447.23,162.56V163.91M447.23,162.56H448.84M447.23,163.91H455.03M448.84,161.86V163.26M448.84,161.86H451.01M448.84,163.26H452.20M451.01,161.55V162.17M451.01,161.55H463.40M451.01,162.17H453.24M453.24,161.92V162.42M453.24,161.92H455.62M453.24,162.42H457.30M455.62,161.80V162.05M455.62,161.80H463.40M455.62,162.05H463.40M457.30,162.29V162.54M457.30,162.29H463.40M457.30,162.54H463.40M452.20,162.98V163.54M452.20,162.98H455.28M452.20,163.54H463.40M455.28,162.79V163.16M455.28,162.79H463.40M455.28,163.16H457.21M457.21,163.04V163.29M457.21,163.04H463.40M457.21,163.29H463.40M455.03,163.79V164.03M455.03,163.79H463.40M455.03,164.03H463.40M442.34,164.89V168.08M442.34,164.89H444.79M442.34,168.08H447.84M444.79,164.53V165.24M444.79,164.53H463.40M444.79,165.24H445.39M445.39,164.78V165.70M445.39,164.78H463.40M445.39,165.70H446.56M446.56,165.03V166.37M446.56,165.03H463.40M446.56,166.37H447.45M447.45,165.71V167.02M447.45,165.71H449.05M447.45,167.02H463.40M449.05,165.28V166.15M449.05,165.28H463.40M449.05,166.15H450.69M450.69,165.71V166.58M450.69,165.71H453.64M450.69,166.58H453.06M453.64,165.53V165.90M453.64,165.53H463.40M453.64,165.90H457.57M457.57,165.78V166.02M457.57,165.78H463.40M457.57,166.02H463.40M453.06,166.40V166.77M453.06,166.40H457.45M453.06,166.77H463.40M457.45,166.27V166.52M457.45,166.27H463.40M457.45,166.52H463.40M447.84,167.49V168.67M447.84,167.49H452.26M447.84,168.67H448.97M452.26,167.27V167.70M452.26,167.27H463.40M452.26,167.70H453.64M453.64,167.52V167.89M453.64,167.52H463.40M453.64,167.89H456.85M456.85,167.76V168.01M456.85,167.76H463.40M456.85,168.01H463.40M448.97,168.39V168.95M448.97,168.39H457.59M448.97,168.95H450.72M457.59,168.26V168.51M457.59,168.26H463.40M457.59,168.51H463.40M450.72,168.76V169.13M450.72,168.76H463.40M450.72,169.13H453.70M453.70,169.01V169.26M453.70,169.01H463.40M453.70,169.26H463.40M448.29,169.72V171.20M448.29,169.72H449.89M448.29,171.20H450.26M449.89,169.51V169.94M449.89,169.51H463.40M449.89,169.94H452.62M452.62,169.75V170.13M452.62,169.75H463.40M452.62,170.13H455.96M455.96,170.00V170.25M455.96,170.00H463.40M455.96,170.25H463.40M450.26,170.69V171.71M450.26,170.69H451.24M450.26,171.71H451.29M451.24,170.50V170.87M451.24,170.50H463.40M451.24,170.87H454.43M454.43,170.75V171.00M454.43,170.75H463.40M454.43,171.00H463.40M451.29,171.37V172.05M451.29,171.37H456.31M451.29,172.05H453.82M456.31,171.25V171.50M456.31,171.25H463.40M456.31,171.50H463.40M453.82,171.87V172.24M453.82,171.87H455.77M453.82,172.24H463.40M455.77,171.74V171.99M455.77,171.74H463.40M455.77,171.99H463.40M441.96,173.81V176.06M441.96,173.81H447.40M441.96,176.06H447.62M447.40,172.92V174.70M447.40,172.92H449.40M447.40,174.70H450.69M449.40,172.49V173.36M449.40,172.49H463.40M449.40,173.36H451.32M451.32,172.92V173.80M451.32,172.92H455.08M451.32,173.80H452.68M455.08,172.74V173.11M455.08,172.74H463.40M455.08,173.11H456.86M456.86,172.99V173.24M456.86,172.99H463.40M456.86,173.24H463.40M452.68,173.61V173.98M452.68,173.61H455.77M452.68,173.98H463.40M455.77,173.48V173.73M455.77,173.48H463.40M455.77,173.73H463.40M450.69,174.35V175.04M450.69,174.35H456.31M450.69,175.04H452.40M456.31,174.23V174.48M456.31,174.23H463.40M456.31,174.48H463.40M452.40,174.85V175.22M452.40,174.85H455.85M452.40,175.22H463.40M455.85,174.73V174.98M455.85,174.73H463.40M455.85,174.98H463.40M447.62,175.47V176.65M447.62,175.47H463.40M447.62,176.65H448.38M448.38,176.33V176.97M448.38,176.33H450.07M448.38,176.97H463.40M450.07,175.94V176.72M450.07,175.94H451.89M450.07,176.72H463.40M451.89,175.72V176.16M451.89,175.72H463.40M451.89,176.16H454.46M454.46,175.97V176.34M454.46,175.97H463.40M454.46,176.34H457.00M457.00,176.22V176.47M457.00,176.22H463.40M457.00,176.47H463.40M447.24,177.62V179.34M447.24,177.62H450.11M447.24,179.34H448.87M450.11,177.34V177.90M450.11,177.34H457.15M450.11,177.90H452.95M457.15,177.21V177.46M457.15,177.21H463.40M457.15,177.46H463.40M452.95,177.71V178.08M452.95,177.71H463.40M452.95,178.08H455.08M455.08,177.96V178.21M455.08,177.96H463.40M455.08,178.21H463.40M448.87,178.86V179.83M448.87,178.86H449.88M448.87,179.83H455.70M449.88,178.58V179.14M449.88,178.58H457.88M449.88,179.14H452.82M457.88,178.46V178.71M457.88,178.46H463.40M457.88,178.71H463.40M452.82,178.95V179.33M452.82,178.95H463.40M452.82,179.33H456.22M456.22,179.20V179.45M456.22,179.20H463.40M456.22,179.45H463.40M455.70,179.70V179.95M455.70,179.70H463.40M455.70,179.95H463.40M435.00,180.74V184.22M435.00,180.74H444.21M435.00,184.22H448.81M444.21,180.32V181.15M444.21,180.32H454.36M444.21,181.15H445.03M454.36,180.20V180.45M454.36,180.20H463.40M454.36,180.45H463.40M445.03,180.70V181.61M445.03,180.70H463.40M445.03,181.61H445.92M445.92,181.07V182.15M445.92,181.07H457.25M445.92,182.15H447.24M457.25,180.94V181.19M457.25,180.94H463.40M457.25,181.19H463.40M447.24,181.75V182.55M447.24,181.75H450.84M447.24,182.55H448.21M450.84,181.57V181.94M450.84,181.57H454.33M450.84,181.94H463.40M454.33,181.44V181.69M454.33,181.44H463.40M454.33,181.69H463.40M448.21,182.19V182.90M448.21,182.19H463.40M448.21,182.90H449.07M449.07,182.62V183.18M449.07,182.62H450.57M449.07,183.18H463.40M450.57,182.44V182.81M450.57,182.44H463.40M450.57,182.81H453.80M453.80,182.69V182.93M453.80,182.69H463.40M453.80,182.93H463.40M448.81,183.71V184.74M448.81,183.71H451.28M448.81,184.74H452.55M451.28,183.43V183.99M451.28,183.43H463.40M451.28,183.99H453.25M453.25,183.80V184.18M453.25,183.80H457.90M453.25,184.18H463.40M457.90,183.68V183.93M457.90,183.68H463.40M457.90,183.93H463.40M452.55,184.55V184.92M452.55,184.55H455.08M452.55,184.92H463.40M455.08,184.43V184.67M455.08,184.43H463.40M455.08,184.67H463.40M448.76,185.82V187.50M448.76,185.82H450.70M448.76,187.50H449.97M450.70,185.30V186.35M450.70,185.30H456.99M450.70,186.35H452.58M456.99,185.17V185.42M456.99,185.17H463.40M456.99,185.42H463.40M452.58,186.04V186.66M452.58,186.04H453.81M452.58,186.66H463.40M453.81,185.79V186.29M453.81,185.79H456.01M453.81,186.29H456.68M456.01,185.67V185.92M456.01,185.67H463.40M456.01,185.92H463.40M456.68,186.17V186.41M456.68,186.17H463.40M456.68,186.41H463.40M449.97,187.22V187.78M449.97,187.22H452.69M449.97,187.78H454.52M452.69,187.04V187.41M452.69,187.04H454.85M452.69,187.41H463.40M454.85,186.91V187.16M454.85,186.91H463.40M454.85,187.16H463.40M454.52,187.66V187.91M454.52,187.66H463.40M454.52,187.91H463.40M435.00,189.11V193.45M435.00,189.11H448.94M435.00,193.45H445.99M448.94,188.34V189.88M448.94,188.34H451.07M448.94,189.88H449.96M451.07,188.16V188.53M451.07,188.16H463.40M451.07,188.53H454.54M454.54,188.40V188.65M454.54,188.40H463.40M454.54,188.65H463.40M449.96,189.49V190.27M449.96,189.49H451.02M449.96,190.27H454.26M451.02,189.21V189.77M451.02,189.21H452.86M451.02,189.77H457.55M452.86,189.03V189.40M452.86,189.03H455.77M452.86,189.40H463.40M455.77,188.90V189.15M455.77,188.90H463.40M455.77,189.15H463.40M457.55,189.65V189.90M457.55,189.65H463.40M457.55,189.90H463.40M454.26,190.14V190.39M454.26,190.14H463.40M454.26,190.39H463.40M445.99,192.52V194.37M445.99,192.52H447.34M445.99,194.37H463.40M447.34,191.39V193.66M447.34,191.39H448.09M447.34,193.66H451.62M448.09,190.64V192.13M448.09,190.64H463.40M448.09,192.13H449.01M449.01,191.57V192.69M449.01,191.57H450.72M449.01,192.69H455.89M450.72,191.20V191.95M450.72,191.20H452.69M450.72,191.95H452.89M452.69,191.02V191.39M452.69,191.02H456.12M452.69,191.39H463.40M456.12,190.89V191.14M456.12,190.89H463.40M456.12,191.14H463.40M452.89,191.76V192.13M452.89,191.76H455.64M452.89,192.13H463.40M455.64,191.64V191.89M455.64,191.64H463.40M455.64,191.89H463.40M455.89,192.51V192.88M455.89,192.51H457.96M455.89,192.88H463.40M457.96,192.38V192.63M457.96,192.38H463.40M457.96,192.63H463.40M451.62,193.32V194.00M451.62,193.32H453.04M451.62,194.00H457.20M453.04,193.13V193.50M453.04,193.13H463.40M453.04,193.50H455.74M455.74,193.38V193.63M455.74,193.38H463.40M455.74,193.63H463.40M457.20,193.88V194.12M457.20,193.88H463.40M457.20,194.12H463.40M435.00,195.68V198.17M435.00,195.68H447.28M435.00,198.17H447.60M447.28,194.99V196.36M447.28,194.99H454.19M447.28,196.36H449.76M454.19,194.75V195.24M454.19,194.75H457.04M454.19,195.24H456.38M457.04,194.62V194.87M457.04,194.62H463.40M457.04,194.87H463.40M456.38,195.12V195.37M456.38,195.12H463.40M456.38,195.37H463.40M449.76,195.99V196.73M449.76,195.99H452.15M449.76,196.73H454.88M452.15,195.74V196.24M452.15,195.74H456.26M452.15,196.24H454.12M456.26,195.62V195.86M456.26,195.62H463.40M456.26,195.86H463.40M454.12,196.11V196.36M454.12,196.11H463.40M454.12,196.36H463.40M454.88,196.61V196.86M454.88,196.61H463.40M454.88,196.86H463.40M447.60,197.47V198.88M447.60,197.47H449.06M447.60,198.88H450.41M449.06,197.11V197.82M449.06,197.11H463.40M449.06,197.82H451.57M451.57,197.54V198.10M451.57,197.54H453.60M451.57,198.10H463.40M453.60,197.36V197.73M453.60,197.36H463.40M453.60,197.73H455.05M455.05,197.60V197.85M455.05,197.60H463.40M455.05,197.85H463.40M450.41,198.66V199.10M450.41,198.66H453.05M450.41,199.10H463.40M453.05,198.48V198.85M453.05,198.48H454.78M453.05,198.85H463.40M454.78,198.35V198.60M454.78,198.35H463.40M454.78,198.60H463.40M446.91,199.84V201.82M446.91,199.84H448.59M446.91,201.82H449.54M448.59,199.35V200.32M448.59,199.35H463.40M448.59,200.32H449.79M449.79,200.06V200.59M449.79,200.06H451.38M449.79,200.59H463.40M451.38,199.78V200.34M451.38,199.78H453.11M451.38,200.34H463.40M453.11,199.59V199.97M453.11,199.59H463.40M453.11,199.97H456.61M456.61,199.84V200.09M456.61,199.84H463.40M456.61,200.09H463.40M449.54,201.15V202.49M449.54,201.15H450.76M449.54,202.49H451.77M450.76,200.84V201.46M450.76,200.84H463.40M450.76,201.46H452.98M452.98,201.21V201.71M452.98,201.21H454.88M452.98,201.71H455.21M454.88,201.09V201.33M454.88,201.09H463.40M454.88,201.33H463.40M455.21,201.58V201.83M455.21,201.58H463.40M455.21,201.83H463.40M451.77,202.21V202.76M451.77,202.21H455.13M451.77,202.76H455.59M455.13,202.08V202.33M455.13,202.08H463.40M455.13,202.33H463.40M455.59,202.58V202.95M455.59,202.58H463.40M455.59,202.95H457.95M457.95,202.83V203.08M457.95,202.83H463.40M457.95,203.08H463.40M406.30,114.40H407.30"/>
</g>
<text transform="translate(394.2,155.8) rotate(-90)" font-size="10.5" fill="#111" stroke="#111" stroke-width="0.25" textLength="47.2" lengthAdjust="spacingAndGlyphs">CpG sites</text>
<g font-size="9.4" font-weight="bold" fill="#111" stroke="#111" stroke-width="0.22">
<text transform="translate(473.8,205.3) rotate(90)" textLength="100" lengthAdjust="spacingAndGlyphs">10 days bortezomib 3</text>
<text transform="translate(496.9,205.3) rotate(90)" textLength="100" lengthAdjust="spacingAndGlyphs">10 days bortezomib 2</text>
<text transform="translate(520.8,205.3) rotate(90)" textLength="100" lengthAdjust="spacingAndGlyphs">10 days bortezomib 1</text>
<text transform="translate(544.6,205.3) rotate(90)" textLength="85.8" lengthAdjust="spacingAndGlyphs">10 days controls 3</text>
<text transform="translate(568.1,205.3) rotate(90)" textLength="85.8" lengthAdjust="spacingAndGlyphs">10 days controls 2</text>
<text transform="translate(591.6,205.3) rotate(90)" textLength="85.8" lengthAdjust="spacingAndGlyphs">10 days controls 1</text>
</g>
</svg>
</body></html>
